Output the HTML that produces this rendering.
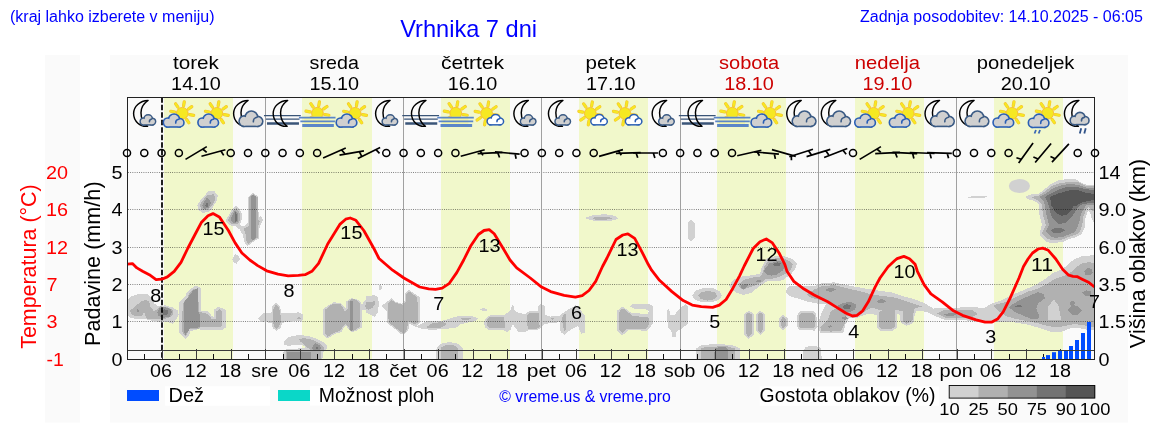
<!DOCTYPE html>
<html lang="sl">
<head>
<meta charset="utf-8">
<title>Vrhnika 7 dni</title>
<style>
html,body{margin:0;padding:0;background:#fff;}
body{width:1152px;height:443px;overflow:hidden;font-family:"Liberation Sans",sans-serif;}
svg{display:block;will-change:transform;}
svg text{font-family:"Liberation Sans",sans-serif;}
</style>
</head>
<body>
<svg width="1152" height="443" viewBox="0 0 1152 443">
<defs>
<clipPath id="plotclip"><rect x="127" y="97" width="968" height="262.3"/></clipPath>
<clipPath id="sunclip"><rect x="-20" y="0" width="40" height="19.8"/></clipPath>
</defs>
<rect x="0" y="0" width="1152" height="443" fill="#fff"/>
<rect x="45" y="55" width="35" height="367.5" fill="#fafafa"/>
<rect x="110" y="55" width="1018" height="367.5" fill="#fafafa"/>
<rect x="164" y="97" width="69" height="262.3" fill="#f1f8cb"/>
<rect x="302" y="97" width="70" height="262.3" fill="#f1f8cb"/>
<rect x="441" y="97" width="69" height="262.3" fill="#f1f8cb"/>
<rect x="579" y="97" width="69" height="262.3" fill="#f1f8cb"/>
<rect x="717" y="97" width="69" height="262.3" fill="#f1f8cb"/>
<rect x="855" y="97" width="69" height="262.3" fill="#f1f8cb"/>
<rect x="994" y="97" width="69" height="262.3" fill="#f1f8cb"/>
<g clip-path="url(#plotclip)">
<path d="M197.3 204.8L200.2 200.8L204.7 195.7L208.1 191.2L214.3 191.2L217.7 195.7L217.1 200.2L214.3 204.8L212.0 209.3L208.1 212.3L202.4 212.7L198.5 209.8Z" fill="#d1d1d1" shape-rendering="crispEdges"/>
<path d="M225.6 220.6L228.9 214.9L232.3 208.7L236.3 205.9L239.7 209.3L241.9 213.2L241.4 222.2L238.5 226.2L232.9 226.2L227.8 223.9Z" fill="#d1d1d1" shape-rendering="crispEdges"/>
<path d="M248.1 196.9L253.2 192.9L258.3 196.9L258.6 217.7L261.1 216.0L262.8 220.0L260.0 225.6L259.1 230.1L258.8 238.5L253.2 241.9L247.6 246.2L244.2 241.9L243.0 235.1L239.7 229.5L235.1 226.1L239.7 224.5L243.0 226.8L248.1 222.8Z" fill="#d1d1d1" shape-rendering="crispEdges"/>
<path d="M232.0 259.4L235.1 254.1L238.5 256.0L239.9 259.4L236.3 263.9L233.5 262.2Z" fill="#d1d1d1" shape-rendering="crispEdges"/>
<path d="M127.9 299.7L131.3 296.3L138.1 294.3L147.1 294.0L151.6 297.4L153.9 303.1L158.4 306.4L165.1 305.3L173.0 307.6L177.6 310.4L178.7 314.3L176.4 318.9L173.0 323.9L168.5 322.2L162.9 322.2L153.9 321.1L146.0 319.4L139.2 318.9L131.3 318.3L127.9 315.5Z" fill="#d1d1d1" shape-rendering="crispEdges"/>
<path d="M179.3 301.9L185.5 296.3L185.5 293.5L190.0 289.5L195.1 285.6L197.9 286.1L200.7 288.4L200.7 310.4L208.0 311.5L211.4 315.5L214.2 317.2L214.2 309.3L218.2 307.0L222.7 308.1L226.1 310.4L226.1 327.3L222.1 330.1L201.3 330.1L199.0 329.0L190.0 331.3L189.4 334.7L185.5 339.0L180.9 334.7L179.3 332.4Z" fill="#d1d1d1" shape-rendering="crispEdges"/>
<path d="M257.9 318.9L263.5 313.2L271.4 313.0L272.0 305.9L276.0 303.1L279.9 305.9L281.6 313.2L295.1 313.2L298.5 312.1L302.5 314.3L303.6 318.3L301.4 321.1L286.1 321.7L282.2 323.4L280.5 327.9L276.5 330.7L273.1 328.5L271.4 322.8L264.7 322.2L260.2 321.1Z" fill="#d1d1d1" shape-rendering="crispEdges"/>
<path d="M323.1 309.3L329.0 304.8L334.1 302.2L340.3 303.1L343.7 305.9L345.9 308.1L346.5 301.4L351.0 298.3L356.1 298.8L360.0 301.4L361.7 304.8L365.1 300.2L369.6 296.3L374.2 295.4L378.1 298.0L378.7 303.1L377.5 312.1L375.3 316.6L371.3 314.3L367.4 311.5L364.0 309.3L361.7 310.4L361.7 327.4L356.1 330.8L351.6 332.5L348.2 328.6L345.9 325.7L343.7 327.4L341.4 332.0L335.8 333.6L331.3 335.9L327.9 338.7L323.1 334.8Z" fill="#d1d1d1" shape-rendering="crispEdges"/>
<path d="M283.9 342.1L287.2 338.1L291.8 335.9L299.7 335.1L308.7 335.9L316.6 338.7L323.4 342.1L326.7 345.5L326.7 348.9L323.4 352.2L322.2 360.1L282.7 360.1L282.7 352.2L287.2 348.9L304.2 348.3L305.9 347.2L303.0 345.5L295.1 345.2L288.4 345.7L284.4 344.9Z" fill="#d1d1d1" shape-rendering="crispEdges"/>
<path d="M365.5 296.3L374.5 295.2L377.9 297.4L379.0 303.1L377.9 312.1L374.5 316.6L370.0 314.3L365.5 312.1Z" fill="#d1d1d1" shape-rendering="crispEdges"/>
<path d="M379.0 285.6L381.3 285.0L381.9 288.4L380.2 290.6L378.8 289.0Z" fill="#d1d1d1" shape-rendering="crispEdges"/>
<path d="M381.3 305.9L386.9 301.9L391.4 298.3L396.0 301.9L401.6 303.6L405.0 300.8L405.2 293.5L408.9 290.1L414.0 293.5L419.7 296.9L420.2 322.2L417.4 325.6L412.9 325.1L408.9 323.4L408.4 330.1L403.9 335.0L400.5 333.5L394.3 328.5L387.5 323.4L386.9 311.0Z" fill="#d1d1d1" shape-rendering="crispEdges"/>
<path d="M408.9 323.4L417.4 325.6L426.4 321.1L442.2 320.6L449.0 318.9L455.8 316.6L465.9 315.5L473.8 316.6L478.4 318.3L475.0 321.1L467.1 322.8L460.3 324.5L456.9 327.3L449.0 328.5L442.2 328.5L433.2 330.1L423.0 329.0L415.1 326.8Z" fill="#d1d1d1" shape-rendering="crispEdges"/>
<path d="M480.0 309.3L483.4 308.1L487.4 309.8L484.0 311.5Z" fill="#d1d1d1" shape-rendering="crispEdges"/>
<path d="M436.0 360.1L436.6 347.7L441.1 343.8L449.0 342.1L456.9 343.2L462.6 347.7L463.1 360.1Z" fill="#d1d1d1" shape-rendering="crispEdges"/>
<path d="M480.0 309.6L484.0 308.1L487.9 310.1L484.0 311.5Z" fill="#d1d1d1" shape-rendering="crispEdges"/>
<path d="M484.0 322.2L486.8 317.2L489.6 315.5L503.7 315.2L507.1 313.0L511.0 309.8L511.6 305.9L513.3 305.1L514.4 310.4L518.9 313.2L525.1 313.8L528.5 311.5L537.6 311.2L538.7 305.3L541.5 304.0L544.6 305.9L544.9 314.9L550.0 316.6L559.0 316.0L563.5 312.7L569.2 308.7L574.8 305.9L575.9 304.8L578.2 307.6L582.1 312.1L585.0 315.5L585.0 332.4L581.6 333.8L579.3 330.1L578.2 325.6L569.2 330.7L564.7 334.7L561.3 332.4L560.1 329.6L559.9 322.2L553.4 322.8L544.3 323.9L539.8 328.5L536.4 330.1L528.5 330.1L525.1 332.4L518.4 332.4L516.1 328.5L512.7 324.5L510.5 329.6L507.1 332.4L502.6 329.6L489.0 330.1L485.1 327.3Z" fill="#d1d1d1" shape-rendering="crispEdges"/>
<path d="M584.4 218.0L593.5 215.1L604.8 214.2L614.9 215.8L618.3 218.7L609.3 221.4L595.7 221.4Z" fill="#d1d1d1" shape-rendering="crispEdges"/>
<path d="M616.9 311.0L621.4 307.0L624.3 307.6L631.6 313.2L647.4 313.8L649.1 311.0L645.1 308.9L633.9 308.7L629.9 306.4L632.7 304.2L649.7 304.4L653.0 305.9L653.0 323.4L649.1 328.5L646.3 330.7L628.2 330.1L624.8 333.5L621.4 335.0L617.5 331.3Z" fill="#d1d1d1" shape-rendering="crispEdges"/>
<path d="M667.2 309.8L669.1 308.9L670.5 314.9L674.5 315.5L676.7 312.1L681.3 307.0L685.8 304.2L687.8 305.9L687.8 323.9L683.5 327.3L677.9 330.7L675.8 332.4L675.6 336.5L672.2 336.5L672.0 332.4L667.7 326.8Z" fill="#d1d1d1" shape-rendering="crispEdges"/>
<path d="M692.0 295.7L695.9 290.6L703.8 287.8L712.9 287.8L719.6 291.2L721.9 295.7L718.5 300.2L710.6 302.5L701.6 301.9L694.8 299.7Z" fill="#d1d1d1" shape-rendering="crispEdges"/>
<path d="M687.7 222.6L691.1 219.6L694.5 222.6L694.5 238.4L691.1 241.7L687.7 238.4Z" fill="#d1d1d1" shape-rendering="crispEdges"/>
<path d="M695.9 360.1L696.2 348.3L701.3 345.5L712.6 344.1L728.4 344.6L735.1 346.0L739.7 348.3L739.9 360.1Z" fill="#d1d1d1" shape-rendering="crispEdges"/>
<path d="M744.2 313.9L748.7 310.7L753.8 313.9L753.8 334.8L748.7 338.9L744.2 334.8Z" fill="#d1d1d1" shape-rendering="crispEdges"/>
<path d="M756.0 313.9L760.2 310.7L764.7 313.9L764.7 330.8L760.5 335.1L756.0 330.8Z" fill="#d1d1d1" shape-rendering="crispEdges"/>
<path d="M779.2 318.4L783.1 314.4L787.6 318.4L787.6 326.3L783.1 330.8L779.2 326.3Z" fill="#d1d1d1" shape-rendering="crispEdges"/>
<path d="M728.9 285.3L734.0 279.7L743.0 276.3L753.2 275.2L760.0 273.5L762.2 266.1L766.1 258.9L775.1 256.1L784.1 256.1L792.0 258.9L797.1 264.0L794.3 270.2L791.6 273.5L788.2 276.3L782.6 280.2L775.8 281.4L767.9 280.8L763.4 283.6L757.7 287.6L750.9 293.2L743.0 294.9L736.3 292.7L731.8 289.3Z" fill="#d1d1d1" shape-rendering="crispEdges"/>
<path d="M785.4 291.3L788.6 286.5L799.2 285.5L814.5 286.5L820.3 283.6L833.7 282.3L849.1 285.5L864.4 288.4L879.7 290.7L891.2 292.3L902.8 296.1L914.3 299.0L925.8 303.8L933.4 308.6L945.0 307.6L958.4 307.6L971.8 308.6L983.3 309.5L991.0 305.7L1002.5 300.9L1002.5 321.0L991.0 323.0L979.5 321.0L968.0 319.1L956.5 320.1L945.0 320.1L935.4 316.2L927.7 312.4L920.0 310.5L916.2 311.4L914.3 316.2L913.3 323.0L906.6 325.8L900.8 323.0L899.9 315.3L897.0 313.4L896.6 327.7L893.2 330.6L879.7 330.6L876.9 326.8L876.9 315.3L870.1 313.4L860.6 316.2L856.7 318.2L849.1 318.2L845.2 324.9L843.3 332.5L829.9 333.5L820.3 332.5L817.4 326.8L821.2 313.4L826.0 303.8L818.4 303.8L808.8 301.9L799.2 299.0L789.6 296.1Z" fill="#d1d1d1" shape-rendering="crispEdges"/>
<path d="M796.9 315.3L800.1 311.4L812.6 310.5L816.4 313.4L816.8 327.7L814.5 330.6L799.2 329.7L796.9 325.8Z" fill="#d1d1d1" shape-rendering="crispEdges"/>
<path d="M781.0 319.1L783.8 316.2L786.7 319.1L786.7 325.8L783.8 328.7L781.0 325.8Z" fill="#d1d1d1" shape-rendering="crispEdges"/>
<path d="M802.6 350.8L805.9 346.9L814.5 345.6L821.2 347.9L821.8 363.2L802.6 363.2Z" fill="#d1d1d1" shape-rendering="crispEdges"/>
<path d="M960.0 307.2L972.2 307.2L984.4 307.8L991.7 303.5L1000.2 300.7L1011.2 295.2L1023.4 290.3L1035.5 284.9L1045.3 278.8L1052.6 273.3L1061.1 269.6L1067.2 265.4L1073.3 259.9L1081.8 256.2L1089.2 255.6L1095.3 255.0L1095.3 330.3L1089.2 330.3L1084.3 329.1L1077.0 327.9L1069.7 328.5L1062.4 331.5L1050.2 331.5L1039.2 327.9L1028.2 324.8L1014.8 322.4L996.6 321.8L974.6 321.2L960.0 319.9Z" fill="#d1d1d1" shape-rendering="crispEdges"/>
<ellipse cx="1019.4" cy="186.0" rx="10.6" ry="6.9" fill="#d1d1d1"/>
<path d="M1024.9 197.0L1031.9 194.0L1038.9 193.5L1044.9 189.0L1050.9 184.0L1058.9 180.0L1066.9 179.2L1075.8 179.5L1081.8 183.0L1086.8 185.0L1094.8 185.0L1094.8 224.0L1091.8 219.0L1089.8 212.0L1087.8 211.0L1085.3 219.0L1084.8 227.0L1081.8 234.0L1076.8 236.9L1069.9 238.9L1062.9 241.9L1054.9 242.9L1046.9 242.4L1040.9 236.9L1039.4 234.0L1041.9 225.0L1039.4 215.0L1038.9 205.0L1040.9 207.9L1037.9 202.9L1033.9 200.9L1028.9 199.4Z" fill="#d1d1d1" shape-rendering="crispEdges"/>
<path d="M965.9 197.1L976.1 195.9L987.4 196.4L982.9 198.2L971.6 198.4Z" fill="#d1d1d1" shape-rendering="crispEdges"/>
<path d="M199.6 205.3L203.0 200.2L206.9 195.2L213.7 194.3L215.4 196.9L214.3 201.9L210.9 207.0L206.9 210.4L201.9 210.1Z" fill="#b1b1b1" shape-rendering="crispEdges"/>
<path d="M227.8 220.0L230.6 214.9L233.5 210.4L236.3 208.1L238.5 211.0L240.2 214.3L239.7 221.1L237.4 224.3L232.3 224.3Z" fill="#b1b1b1" shape-rendering="crispEdges"/>
<path d="M249.3 197.4L253.2 194.0L257.5 197.4L257.7 218.9L259.8 221.1L257.7 226.8L257.7 237.4L252.6 240.8L248.1 243.9L246.4 240.8L245.9 235.1L243.6 228.3L245.3 228.5L249.3 225.1Z" fill="#b1b1b1" shape-rendering="crispEdges"/>
<path d="M130.2 310.4L134.7 307.0L140.3 301.9L146.0 299.7L149.3 301.9L150.5 307.0L153.9 311.0L157.2 309.3L160.6 306.4L167.4 307.0L173.0 310.4L172.5 314.9L168.5 318.3L161.8 318.9L153.9 319.4L147.1 318.9L144.8 314.9L144.3 311.0L142.0 315.5L134.7 316.0L131.3 314.3Z" fill="#b1b1b1" shape-rendering="crispEdges"/>
<path d="M183.2 303.1L187.7 297.4L188.8 293.5L193.4 289.0L197.9 288.4L199.0 312.1L205.8 313.2L210.3 316.6L211.4 318.9L215.9 318.9L216.5 311.5L219.3 309.3L222.1 311.5L222.1 325.6L219.3 327.3L200.1 327.3L199.0 328.5L188.8 329.0L187.7 332.4L185.5 336.4L182.6 333.5L181.9 318.9Z" fill="#b1b1b1" shape-rendering="crispEdges"/>
<path d="M272.6 317.2L273.7 307.6L276.2 304.4L278.8 307.6L281.0 316.6L280.5 323.4L277.1 329.0L274.3 326.8L273.1 322.2Z" fill="#b1b1b1" shape-rendering="crispEdges"/>
<path d="M297.2 318.3L299.1 316.6L300.8 318.3L299.1 319.8Z" fill="#b1b1b1" shape-rendering="crispEdges"/>
<path d="M325.1 309.8L330.1 305.3L334.7 303.6L340.3 304.2L343.1 307.6L344.8 312.1L347.6 308.7L348.0 301.9L351.6 299.1L356.1 299.7L359.5 302.5L360.0 326.9L355.5 329.7L351.6 331.4L349.3 329.7L348.2 326.3L345.9 324.1L342.6 326.9L340.3 330.8L335.8 332.0L331.3 334.2L327.9 337.0L325.1 333.6Z" fill="#b1b1b1" shape-rendering="crispEdges"/>
<path d="M364.9 305.3L367.9 301.9L374.2 301.4L375.1 304.2L372.5 307.6L368.5 309.8L366.3 308.1Z" fill="#b1b1b1" shape-rendering="crispEdges"/>
<path d="M299.1 339.3L304.2 338.1L310.9 339.3L317.7 342.1L322.2 345.5L324.5 348.9L322.2 351.1L318.8 350.6L310.9 350.0L307.6 347.7L304.2 344.3L299.7 341.0Z" fill="#b1b1b1" shape-rendering="crispEdges"/>
<path d="M286.1 351.1L321.1 351.1L320.5 360.1L286.1 360.1Z" fill="#b1b1b1" shape-rendering="crispEdges"/>
<path d="M365.5 301.9L374.5 301.4L375.1 304.2L372.3 307.6L365.5 309.3Z" fill="#b1b1b1" shape-rendering="crispEdges"/>
<path d="M388.1 303.1L391.4 299.7L396.0 303.1L402.7 304.8L406.1 301.9L406.3 294.6L408.9 291.2L413.5 294.6L417.4 297.4L418.0 322.2L415.1 324.5L408.4 321.1L406.7 330.1L403.9 333.5L400.5 331.8L394.8 327.3L388.6 322.2Z" fill="#b1b1b1" shape-rendering="crispEdges"/>
<path d="M425.9 327.3L433.2 322.8L443.4 322.2L446.7 323.9L442.2 327.3L433.2 328.5Z" fill="#b1b1b1" shape-rendering="crispEdges"/>
<path d="M460.3 318.3L465.9 317.7L471.6 318.3L468.2 320.0L462.6 320.0Z" fill="#b1b1b1" shape-rendering="crispEdges"/>
<path d="M440.5 360.1L440.9 347.7L444.5 345.5L453.5 345.2L457.8 347.7L458.0 360.1Z" fill="#b1b1b1" shape-rendering="crispEdges"/>
<path d="M487.3 318.9L489.6 317.2L504.3 317.2L504.8 327.9L489.6 328.5L487.3 326.2Z" fill="#b1b1b1" shape-rendering="crispEdges"/>
<path d="M527.4 314.9L529.7 313.2L538.7 313.2L539.6 326.8L536.4 329.0L528.5 328.5L527.2 325.6Z" fill="#b1b1b1" shape-rendering="crispEdges"/>
<path d="M562.2 317.7L564.1 314.1L565.8 314.3L565.8 330.1L564.1 331.8L562.4 322.2Z" fill="#b1b1b1" shape-rendering="crispEdges"/>
<path d="M550.9 318.3L554.5 318.1L552.8 320.0Z" fill="#b1b1b1" shape-rendering="crispEdges"/>
<path d="M592.3 218.0L598.0 216.5L607.0 216.5L612.7 218.3L604.8 219.9L595.7 219.9Z" fill="#b1b1b1" shape-rendering="crispEdges"/>
<path d="M619.0 312.1L622.0 308.7L624.3 309.3L632.7 316.0L648.0 317.2L649.1 318.9L648.5 325.6L646.3 328.5L627.1 328.5L622.6 333.0L619.2 330.1Z" fill="#b1b1b1" shape-rendering="crispEdges"/>
<path d="M698.0 295.7L701.6 292.3L708.4 290.9L715.1 292.3L717.2 296.3L714.0 299.4L707.2 300.6L701.0 299.1Z" fill="#b1b1b1" shape-rendering="crispEdges"/>
<path d="M700.9 360.1L701.3 348.3L708.1 346.6L727.2 346.4L734.6 348.3L734.9 360.1Z" fill="#b1b1b1" shape-rendering="crispEdges"/>
<path d="M745.9 314.4L748.7 312.5L751.9 314.4L751.9 333.6L748.7 337.0L745.9 333.6Z" fill="#b1b1b1" shape-rendering="crispEdges"/>
<path d="M757.7 314.4L760.2 312.5L763.1 314.4L763.1 329.7L760.5 333.1L757.7 329.7Z" fill="#b1b1b1" shape-rendering="crispEdges"/>
<path d="M780.9 319.5L783.1 316.7L785.9 319.5L785.9 325.7L783.1 328.5L780.9 325.7Z" fill="#b1b1b1" shape-rendering="crispEdges"/>
<path d="M738.5 284.2L744.2 279.7L753.2 277.4L761.1 276.3L763.4 270.6L763.9 266.7L768.3 261.2L775.1 258.3L784.1 258.3L789.8 261.2L792.6 264.5L790.9 270.2L785.9 273.5L780.3 276.3L773.5 278.5L766.7 278.5L762.2 281.9L755.5 285.3L748.7 287.6L743.0 289.8L739.7 287.6Z" fill="#b1b1b1" shape-rendering="crispEdges"/>
<path d="M798.8 316.2L801.1 313.4L812.6 313.0L814.9 315.3L814.9 326.8L812.6 328.3L800.1 328.3L798.8 325.8Z" fill="#b1b1b1" shape-rendering="crispEdges"/>
<path d="M781.9 320.1L783.8 318.2L785.8 320.1L785.8 325.3L783.8 327.2L781.9 325.3Z" fill="#b1b1b1" shape-rendering="crispEdges"/>
<path d="M806.9 294.2L814.5 289.4L821.2 286.5L833.7 285.0L847.1 288.4L860.6 291.3L870.1 294.2L883.6 296.1L895.1 297.6L904.7 300.9L914.3 303.8L921.9 306.6L914.3 308.6L912.3 321.0L906.6 323.9L902.8 321.0L902.8 311.4L895.1 309.5L894.7 326.8L892.2 328.7L880.7 328.7L878.8 325.8L878.8 312.4L881.7 310.5L872.1 307.6L866.3 310.5L860.6 314.3L856.7 316.2L851.0 315.7L845.2 316.2L845.2 323.0L841.4 330.6L830.8 331.6L821.2 330.6L820.3 326.8L828.0 319.1L830.8 311.4L837.5 307.6L831.8 303.8L824.1 300.9L816.4 299.0L810.7 297.6Z" fill="#b1b1b1" shape-rendering="crispEdges"/>
<path d="M937.3 313.4L943.0 310.5L958.4 309.9L971.8 311.4L977.6 314.3L971.8 317.2L958.4 318.2L945.0 317.6Z" fill="#b1b1b1" shape-rendering="crispEdges"/>
<path d="M960.0 310.2L972.2 310.2L977.7 313.9L972.2 316.9L960.0 316.3Z" fill="#b1b1b1" shape-rendering="crispEdges"/>
<path d="M992.9 305.9L996.6 304.3L1006.3 301.9L1016.0 297.0L1028.2 291.6L1038.0 288.5L1047.7 283.6L1055.0 278.8L1064.8 275.7L1072.1 271.4L1077.0 266.6L1083.1 262.9L1089.2 262.3L1095.3 262.9L1095.3 327.3L1089.2 326.6L1081.8 324.8L1073.3 324.2L1064.8 326.0L1057.5 327.3L1047.7 326.0L1039.2 323.6L1028.2 321.2L1014.8 318.7L1006.3 316.3L996.6 309.6Z" fill="#b1b1b1" shape-rendering="crispEdges"/>
<path d="M1030.9 197.0L1038.9 195.5L1044.9 191.5L1051.9 186.0L1060.9 183.0L1069.9 182.0L1078.8 182.5L1084.8 185.5L1094.8 186.5L1094.8 212.0L1090.8 210.0L1088.8 207.0L1085.8 210.0L1083.3 217.0L1082.3 225.0L1079.8 232.0L1075.8 234.9L1069.9 236.4L1062.9 239.4L1054.9 240.4L1046.9 238.9L1041.9 233.0L1045.9 225.0L1042.9 215.0L1041.9 205.0L1042.9 207.9L1040.9 202.9L1036.9 199.9Z" fill="#b1b1b1" shape-rendering="crispEdges"/>
<path d="M1047.7 319.9L1048.0 307.2L1053.8 299.2L1058.7 305.9L1061.1 319.9Z" fill="#d1d1d1" shape-rendering="crispEdges"/>
<path d="M202.2 205.9L204.7 200.8L206.9 198.0L209.8 200.2L210.9 203.6L208.6 208.1L204.1 208.7Z" fill="#939393" shape-rendering="crispEdges"/>
<path d="M230.6 219.4L232.9 214.3L235.1 210.4L237.4 212.7L238.5 216.0L238.0 221.1L235.7 223.1L232.3 222.2Z" fill="#939393" shape-rendering="crispEdges"/>
<path d="M251.5 196.3L253.2 194.9L255.5 196.3L256.0 237.4L253.2 240.2L250.9 238.5Z" fill="#939393" shape-rendering="crispEdges"/>
<path d="M136.7 310.7L137.8 308.9L139.0 310.7L138.1 312.3Z" fill="#939393" shape-rendering="crispEdges"/>
<path d="M157.2 312.1L159.5 308.1L165.1 307.0L170.8 309.3L171.9 312.7L169.1 317.2L162.9 317.7L158.4 316.0Z" fill="#939393" shape-rendering="crispEdges"/>
<path d="M183.8 302.5L188.8 296.3L193.4 290.1L197.9 287.8L197.9 311.0L199.9 314.3L199.9 327.3L190.0 328.5L188.3 331.3L185.5 334.7L183.8 331.8Z" fill="#939393" shape-rendering="crispEdges"/>
<path d="M350.5 301.4L352.1 300.2L352.9 301.9L352.9 329.6L351.6 331.3L350.2 329.6Z" fill="#939393" shape-rendering="crispEdges"/>
<path d="M311.5 347.7L315.5 343.2L320.0 345.5L321.7 348.9L317.7 350.2L313.2 350.0Z" fill="#939393" shape-rendering="crispEdges"/>
<path d="M287.2 351.7L310.9 351.7L311.5 360.1L287.2 360.1Z" fill="#939393" shape-rendering="crispEdges"/>
<path d="M714.3 360.1L714.6 348.9L718.2 347.2L726.1 347.2L727.8 348.9L727.8 360.1Z" fill="#939393" shape-rendering="crispEdges"/>
<path d="M763.9 271.8L765.5 267.8L769.5 263.4L777.4 261.2L783.0 261.7L785.3 265.7L782.6 270.6L776.9 274.6L771.3 275.7L766.7 274.6Z" fill="#939393" shape-rendering="crispEdges"/>
<path d="M755.2 280.8L760.5 279.9L760.9 281.7L756.0 282.5Z" fill="#939393" shape-rendering="crispEdges"/>
<path d="M740.2 285.9L746.4 283.6L748.7 285.3L744.2 289.3L741.4 288.1Z" fill="#939393" shape-rendering="crispEdges"/>
<path d="M944.0 314.3L950.7 312.8L958.4 313.4L952.6 316.2L946.9 316.2Z" fill="#939393" shape-rendering="crispEdges"/>
<path d="M837.5 305.7L843.3 302.8L851.0 301.9L856.7 304.7L854.8 309.5L849.1 312.4L843.3 311.4L839.5 308.6Z" fill="#939393" shape-rendering="crispEdges"/>
<path d="M825.6 289.4L830.8 287.5L836.0 289.4L831.8 291.9L827.0 291.3Z" fill="#939393" shape-rendering="crispEdges"/>
<path d="M876.9 300.9L881.7 299.0L886.5 300.9L882.6 303.4L878.2 302.8Z" fill="#939393" shape-rendering="crispEdges"/>
<path d="M841.4 317.6L846.2 316.2L848.1 318.7L844.3 320.1Z" fill="#939393" shape-rendering="crispEdges"/>
<path d="M827.6 326.4L830.3 325.3L832.2 326.8L829.5 327.9Z" fill="#939393" shape-rendering="crispEdges"/>
<path d="M1008.7 307.2L1012.4 304.3L1020.9 299.5L1030.7 295.2L1038.0 292.2L1044.1 294.0L1044.7 298.6L1038.0 303.5L1036.2 308.4L1039.2 315.7L1038.0 319.3L1030.7 318.7L1023.4 315.7L1014.8 312.0Z" fill="#939393" shape-rendering="crispEdges"/>
<path d="M1084.3 271.4L1087.9 267.8L1092.2 269.6L1092.8 273.3L1089.2 275.7L1085.5 274.5Z" fill="#939393" shape-rendering="crispEdges"/>
<path d="M1081.8 292.8L1086.7 290.3L1091.6 291.6L1091.0 295.8L1085.5 296.4Z" fill="#939393" shape-rendering="crispEdges"/>
<path d="M1067.2 310.2L1070.9 306.5L1069.7 302.3L1072.7 300.4L1075.1 302.9L1073.9 305.3L1078.2 306.5L1081.8 310.2L1078.2 314.5L1072.1 314.5Z" fill="#939393" shape-rendering="crispEdges"/>
<path d="M1039.4 197.0L1045.9 193.5L1052.9 188.5L1061.9 185.0L1070.9 184.0L1078.8 185.0L1085.8 187.5L1094.8 188.5L1094.8 205.0L1086.8 205.0L1083.3 209.0L1080.8 215.0L1079.3 222.0L1076.8 229.0L1073.8 232.5L1068.9 234.5L1062.9 236.9L1054.9 237.9L1049.9 235.9L1045.9 231.5L1048.9 225.0L1046.4 215.0L1044.9 205.0L1045.9 207.9L1043.9 201.9Z" fill="#939393" shape-rendering="crispEdges"/>
<path d="M205.2 205.3L206.9 202.5L208.3 204.8L207.5 207.0L205.8 207.0Z" fill="#747474" shape-rendering="crispEdges"/>
<path d="M234.6 214.3L235.7 212.1L236.8 214.3L236.5 221.1L235.1 221.7Z" fill="#747474" shape-rendering="crispEdges"/>
<path d="M162.3 311.5L164.6 309.3L168.0 310.4L167.4 314.3L164.6 315.5L162.7 314.1Z" fill="#747474" shape-rendering="crispEdges"/>
<path d="M315.5 347.7L317.2 346.6L318.3 348.3L316.8 349.4Z" fill="#747474" shape-rendering="crispEdges"/>
<path d="M772.3 264.0L777.4 262.3L780.7 263.4L779.6 265.7L775.1 266.2Z" fill="#747474" shape-rendering="crispEdges"/>
<path d="M842.3 306.1L847.1 304.2L851.9 305.7L849.1 309.1L844.3 309.1Z" fill="#747474" shape-rendering="crispEdges"/>
<path d="M1014.8 306.2L1018.5 305.0L1022.8 305.9L1019.7 307.4L1016.0 307.4Z" fill="#747474" shape-rendering="crispEdges"/>
<path d="M1044.9 197.0L1050.9 193.5L1058.9 189.5L1066.9 187.0L1074.8 186.5L1082.8 188.5L1094.8 190.5L1094.8 202.4L1089.8 202.9L1082.8 204.4L1080.8 205.0L1077.8 208.0L1073.8 214.0L1069.9 219.0L1064.9 223.0L1058.9 224.0L1053.9 220.0L1050.9 215.0L1048.9 205.0L1049.9 207.9L1047.4 201.9Z" fill="#747474" shape-rendering="crispEdges"/>
<path d="M1050.9 230.5L1053.9 228.5L1061.9 228.2L1064.9 230.5L1060.9 232.5L1053.9 233.0Z" fill="#747474" shape-rendering="crispEdges"/>
<path d="M1049.9 197.0L1056.9 194.0L1064.9 191.5L1070.9 190.0L1078.8 190.5L1084.8 192.5L1094.8 194.0L1094.8 199.9L1088.8 200.9L1080.8 202.9L1074.8 206.9L1073.8 205.0L1070.9 211.0L1066.9 214.5L1061.9 215.8L1057.9 214.0L1053.9 210.0L1051.9 205.0L1051.9 207.9L1050.9 201.9Z" fill="#565656" shape-rendering="crispEdges"/>
</g>
<line x1="128" y1="321.5" x2="1095" y2="321.5" stroke="#000" stroke-opacity="0.62" stroke-width="0.9" stroke-dasharray="0.85 1.36"/>
<line x1="128" y1="284.5" x2="1095" y2="284.5" stroke="#000" stroke-opacity="0.62" stroke-width="0.9" stroke-dasharray="0.85 1.36"/>
<line x1="128" y1="247.5" x2="1095" y2="247.5" stroke="#000" stroke-opacity="0.62" stroke-width="0.9" stroke-dasharray="0.85 1.36"/>
<line x1="128" y1="209.5" x2="1095" y2="209.5" stroke="#000" stroke-opacity="0.62" stroke-width="0.9" stroke-dasharray="0.85 1.36"/>
<line x1="128" y1="172.5" x2="1095" y2="172.5" stroke="#000" stroke-opacity="0.62" stroke-width="0.9" stroke-dasharray="0.85 1.36"/>
<line x1="265.5" y1="97" x2="265.5" y2="359.3" stroke="#a0a0a0" stroke-width="1"/>
<line x1="403.5" y1="97" x2="403.5" y2="359.3" stroke="#a0a0a0" stroke-width="1"/>
<line x1="541.5" y1="97" x2="541.5" y2="359.3" stroke="#a0a0a0" stroke-width="1"/>
<line x1="680.5" y1="97" x2="680.5" y2="359.3" stroke="#a0a0a0" stroke-width="1"/>
<line x1="818.5" y1="97" x2="818.5" y2="359.3" stroke="#a0a0a0" stroke-width="1"/>
<line x1="956.5" y1="97" x2="956.5" y2="359.3" stroke="#a0a0a0" stroke-width="1"/>
<line x1="162" y1="97.3" x2="162" y2="359" stroke="#000" stroke-width="1.75" stroke-dasharray="5.5 2"/>
<line x1="144.5" y1="359" x2="144.5" y2="354" stroke="#111" stroke-width="1"/>
<line x1="162.5" y1="359" x2="162.5" y2="349" stroke="#3c3c3c" stroke-width="1"/>
<line x1="179.5" y1="359" x2="179.5" y2="354" stroke="#111" stroke-width="1"/>
<line x1="196.5" y1="359" x2="196.5" y2="349" stroke="#3c3c3c" stroke-width="1"/>
<line x1="213.5" y1="359" x2="213.5" y2="354" stroke="#111" stroke-width="1"/>
<line x1="231.5" y1="359" x2="231.5" y2="349" stroke="#3c3c3c" stroke-width="1"/>
<line x1="248.5" y1="359" x2="248.5" y2="354" stroke="#111" stroke-width="1"/>
<line x1="265.5" y1="359" x2="265.5" y2="349" stroke="#3c3c3c" stroke-width="1"/>
<line x1="283.5" y1="359" x2="283.5" y2="354" stroke="#111" stroke-width="1"/>
<line x1="300.5" y1="359" x2="300.5" y2="349" stroke="#3c3c3c" stroke-width="1"/>
<line x1="317.5" y1="359" x2="317.5" y2="354" stroke="#111" stroke-width="1"/>
<line x1="334.5" y1="359" x2="334.5" y2="349" stroke="#3c3c3c" stroke-width="1"/>
<line x1="352.5" y1="359" x2="352.5" y2="354" stroke="#111" stroke-width="1"/>
<line x1="369.5" y1="359" x2="369.5" y2="349" stroke="#3c3c3c" stroke-width="1"/>
<line x1="386.5" y1="359" x2="386.5" y2="354" stroke="#111" stroke-width="1"/>
<line x1="404.5" y1="359" x2="404.5" y2="349" stroke="#3c3c3c" stroke-width="1"/>
<line x1="421.5" y1="359" x2="421.5" y2="354" stroke="#111" stroke-width="1"/>
<line x1="438.5" y1="359" x2="438.5" y2="349" stroke="#3c3c3c" stroke-width="1"/>
<line x1="455.5" y1="359" x2="455.5" y2="354" stroke="#111" stroke-width="1"/>
<line x1="473.5" y1="359" x2="473.5" y2="349" stroke="#3c3c3c" stroke-width="1"/>
<line x1="490.5" y1="359" x2="490.5" y2="354" stroke="#111" stroke-width="1"/>
<line x1="507.5" y1="359" x2="507.5" y2="349" stroke="#3c3c3c" stroke-width="1"/>
<line x1="525.5" y1="359" x2="525.5" y2="354" stroke="#111" stroke-width="1"/>
<line x1="542.5" y1="359" x2="542.5" y2="349" stroke="#3c3c3c" stroke-width="1"/>
<line x1="559.5" y1="359" x2="559.5" y2="354" stroke="#111" stroke-width="1"/>
<line x1="576.5" y1="359" x2="576.5" y2="349" stroke="#3c3c3c" stroke-width="1"/>
<line x1="594.5" y1="359" x2="594.5" y2="354" stroke="#111" stroke-width="1"/>
<line x1="611.5" y1="359" x2="611.5" y2="349" stroke="#3c3c3c" stroke-width="1"/>
<line x1="628.5" y1="359" x2="628.5" y2="354" stroke="#111" stroke-width="1"/>
<line x1="646.5" y1="359" x2="646.5" y2="349" stroke="#3c3c3c" stroke-width="1"/>
<line x1="663.5" y1="359" x2="663.5" y2="354" stroke="#111" stroke-width="1"/>
<line x1="680.5" y1="359" x2="680.5" y2="349" stroke="#3c3c3c" stroke-width="1"/>
<line x1="697.5" y1="359" x2="697.5" y2="354" stroke="#111" stroke-width="1"/>
<line x1="715.5" y1="359" x2="715.5" y2="349" stroke="#3c3c3c" stroke-width="1"/>
<line x1="732.5" y1="359" x2="732.5" y2="354" stroke="#111" stroke-width="1"/>
<line x1="749.5" y1="359" x2="749.5" y2="349" stroke="#3c3c3c" stroke-width="1"/>
<line x1="767.5" y1="359" x2="767.5" y2="354" stroke="#111" stroke-width="1"/>
<line x1="784.5" y1="359" x2="784.5" y2="349" stroke="#3c3c3c" stroke-width="1"/>
<line x1="801.5" y1="359" x2="801.5" y2="354" stroke="#111" stroke-width="1"/>
<line x1="818.5" y1="359" x2="818.5" y2="349" stroke="#3c3c3c" stroke-width="1"/>
<line x1="836.5" y1="359" x2="836.5" y2="354" stroke="#111" stroke-width="1"/>
<line x1="853.5" y1="359" x2="853.5" y2="349" stroke="#3c3c3c" stroke-width="1"/>
<line x1="870.5" y1="359" x2="870.5" y2="354" stroke="#111" stroke-width="1"/>
<line x1="888.5" y1="359" x2="888.5" y2="349" stroke="#3c3c3c" stroke-width="1"/>
<line x1="905.5" y1="359" x2="905.5" y2="354" stroke="#111" stroke-width="1"/>
<line x1="922.5" y1="359" x2="922.5" y2="349" stroke="#3c3c3c" stroke-width="1"/>
<line x1="939.5" y1="359" x2="939.5" y2="354" stroke="#111" stroke-width="1"/>
<line x1="957.5" y1="359" x2="957.5" y2="349" stroke="#3c3c3c" stroke-width="1"/>
<line x1="974.5" y1="359" x2="974.5" y2="354" stroke="#111" stroke-width="1"/>
<line x1="991.5" y1="359" x2="991.5" y2="349" stroke="#3c3c3c" stroke-width="1"/>
<line x1="1009.5" y1="359" x2="1009.5" y2="354" stroke="#111" stroke-width="1"/>
<line x1="1026.5" y1="359" x2="1026.5" y2="349" stroke="#3c3c3c" stroke-width="1"/>
<line x1="1043.5" y1="359" x2="1043.5" y2="354" stroke="#111" stroke-width="1"/>
<line x1="1060.5" y1="359" x2="1060.5" y2="349" stroke="#3c3c3c" stroke-width="1"/>
<line x1="1078.5" y1="359" x2="1078.5" y2="354" stroke="#111" stroke-width="1"/>
<rect x="1042" y="357" width="3" height="2.5" fill="#004cff"/>
<rect x="1046" y="355.1" width="4" height="4.4" fill="#004cff"/>
<rect x="1052" y="352.2" width="4" height="7.3" fill="#004cff"/>
<rect x="1058" y="351" width="4" height="8.5" fill="#004cff"/>
<rect x="1064" y="351" width="4" height="8.5" fill="#004cff"/>
<rect x="1069" y="346" width="4" height="13.5" fill="#004cff"/>
<rect x="1075" y="340" width="4" height="19.5" fill="#004cff"/>
<rect x="1081" y="333" width="4" height="26.5" fill="#004cff"/>
<rect x="1087" y="322" width="4" height="37.5" fill="#004cff"/>
<line x1="127.5" y1="350.5" x2="1094.5" y2="350.5" stroke="#3a3a3a" stroke-width="1"/>
<polyline points="127.5,264.2 132.4,263.6 136.9,267.9 142.6,271.3 149.3,274.7 156.1,279.7 161.8,279.2 167.4,276.9 174.2,271.3 181.0,262.3 187.7,248.5 194.5,235.5 201.3,222.6 208.0,215.8 213.0,213.6 219.3,216.9 228.4,230.5 235.1,242.9 241.9,253.0 249.8,260.0 257.7,265.6 266.7,270.8 278.0,274.2 288.2,275.8 298.3,275.3 305.1,274.7 311.9,271.3 318.6,263.4 327.7,244.0 340.1,224.1 345.7,219.2 350.2,218.0 355.9,220.3 363.8,230.5 373.9,248.5 379.0,258.5 392.6,270.2 403.9,278.0 419.7,287.0 428.7,288.9 435.5,289.3 442.2,288.2 449.0,283.7 456.9,272.4 463.7,260.0 470.5,246.3 478.4,234.5 484.0,230.5 489.2,229.6 494.2,233.8 503.2,248.5 510.0,260.0 516.7,267.9 530.3,278.0 541.6,287.1 550.6,291.6 564.1,295.4 575.4,297.2 582.2,295.7 589.0,290.5 595.7,281.4 602.5,266.5 607.0,258.0 616.0,239.5 622.8,235.0 627.9,233.8 634.7,238.4 641.4,250.8 648.2,264.3 651.6,270.2 659.5,280.3 671.9,291.6 683.2,300.6 692.2,305.1 701.3,306.7 712.6,307.4 719.3,305.1 726.1,299.5 732.9,288.2 739.6,275.8 744.2,266.0 753.2,248.5 760.0,241.7 766.3,239.0 772.4,242.9 779.1,253.0 784.8,264.3 787.0,271.3 793.8,281.4 802.8,288.2 814.1,295.0 827.7,301.8 836.7,307.4 845.7,313.0 852.5,316.0 857.0,315.3 862.7,310.8 868.3,301.8 875.1,287.1 880.0,278.0 888.1,266.8 894.8,260.5 897.1,258.7 903.9,256.4 909.5,258.7 915.1,264.3 917.4,271.3 924.2,284.8 930.9,293.9 942.2,301.8 953.5,310.8 962.5,315.3 976.1,319.8 985.1,322.1 991.9,322.1 997.5,319.1 1003.2,311.9 1010.0,298.4 1019.0,278.0 1023.5,266.5 1028.0,259.0 1032.5,253.0 1038.2,249.0 1042.7,248.1 1048.3,250.3 1055.8,259.0 1059.3,264.3 1062.8,269.5 1068.7,275.2 1073.0,276.4 1077.0,276.6 1082.2,279.2 1089.0,282.6 1094.5,287.0" fill="none" stroke="#ff0000" stroke-width="2.8" stroke-linejoin="round" stroke-linecap="butt"/>
<rect x="127.5" y="97.5" width="967" height="262" fill="none" stroke="#222" stroke-width="1"/>
<g transform="translate(144.29,97.0)"><path transform="translate(0.00,0)" d="M3.8 3.5C-4.5 3.7 -10.7 9.5 -10.7 16.6C-10.7 24.5 -4 30.1 3.3 29.3C-1.5 26 -3.3 21 -3.3 15.7C-3.3 10.5 0 6 3.8 3.5Z" fill="none" stroke="#000" stroke-width="1.45" stroke-linejoin="round"/><g transform="translate(-3.40,18.60) scale(0.1400,0.1387)"><g fill="#3a5a84" stroke="#3a5a84" stroke-width="21.53"><ellipse cx="18" cy="42" rx="18" ry="20"/><ellipse cx="52" cy="25" rx="25" ry="25"/><ellipse cx="80" cy="43" rx="20" ry="19"/><rect x="18" y="40" width="62" height="22"/></g><g fill="#d0d0d0"><ellipse cx="18" cy="42" rx="18" ry="20"/><ellipse cx="52" cy="25" rx="25" ry="25"/><ellipse cx="80" cy="43" rx="20" ry="19"/><rect x="18" y="40" width="62" height="22"/></g><path d="M77.5 24.5A20 19 0 0 0 61 45" fill="none" stroke="#3a5a84" stroke-width="10.76" stroke-linecap="round"/></g></g>
<g transform="translate(178.86,97.0)"><g><path d="M4.72 8.82L5.41 4.88M9.63 11.94L12.90 9.65M10.88 17.62L14.82 18.31M7.76 22.53L10.05 25.80M2.08 23.78L1.39 27.72M-2.83 20.66L-6.10 22.95M-4.08 14.98L-8.02 14.29M-0.96 10.07L-3.25 6.80" stroke="#f7bd2e" stroke-width="3.2" stroke-linecap="round" fill="none"/><path d="M4.72 8.82L5.41 4.88M9.63 11.94L12.90 9.65M10.88 17.62L14.82 18.31M7.76 22.53L10.05 25.80M2.08 23.78L1.39 27.72M-2.83 20.66L-6.10 22.95M-4.08 14.98L-8.02 14.29M-0.96 10.07L-3.25 6.80" stroke="#f6e822" stroke-width="2.2" stroke-linecap="round" fill="none"/><circle cx="3.40" cy="16.30" r="5.9" fill="#f6e822" stroke="#f6ae25" stroke-width="0.7"/></g><g transform="translate(-14.70,17.80) scale(0.1900,0.1839)"><g fill="#2a5fb5" stroke="#2a5fb5" stroke-width="17.12"><ellipse cx="18" cy="42" rx="18" ry="20"/><ellipse cx="52" cy="25" rx="25" ry="25"/><ellipse cx="80" cy="43" rx="20" ry="19"/><rect x="18" y="40" width="62" height="22"/></g><g fill="#d0d0d0"><ellipse cx="18" cy="42" rx="18" ry="20"/><ellipse cx="52" cy="25" rx="25" ry="25"/><ellipse cx="80" cy="43" rx="20" ry="19"/><rect x="18" y="40" width="62" height="22"/></g><path d="M77.5 24.5A20 19 0 0 0 61 45" fill="none" stroke="#2a5fb5" stroke-width="8.56" stroke-linecap="round"/></g></g>
<g transform="translate(213.43,97.0)"><g><path d="M4.72 8.82L5.41 4.88M9.63 11.94L12.90 9.65M10.88 17.62L14.82 18.31M7.76 22.53L10.05 25.80M2.08 23.78L1.39 27.72M-2.83 20.66L-6.10 22.95M-4.08 14.98L-8.02 14.29M-0.96 10.07L-3.25 6.80" stroke="#f7bd2e" stroke-width="3.2" stroke-linecap="round" fill="none"/><path d="M4.72 8.82L5.41 4.88M9.63 11.94L12.90 9.65M10.88 17.62L14.82 18.31M7.76 22.53L10.05 25.80M2.08 23.78L1.39 27.72M-2.83 20.66L-6.10 22.95M-4.08 14.98L-8.02 14.29M-0.96 10.07L-3.25 6.80" stroke="#f6e822" stroke-width="2.2" stroke-linecap="round" fill="none"/><circle cx="3.40" cy="16.30" r="5.9" fill="#f6e822" stroke="#f6ae25" stroke-width="0.7"/></g><g transform="translate(-14.70,17.80) scale(0.1900,0.1839)"><g fill="#2a5fb5" stroke="#2a5fb5" stroke-width="17.12"><ellipse cx="18" cy="42" rx="18" ry="20"/><ellipse cx="52" cy="25" rx="25" ry="25"/><ellipse cx="80" cy="43" rx="20" ry="19"/><rect x="18" y="40" width="62" height="22"/></g><g fill="#d0d0d0"><ellipse cx="18" cy="42" rx="18" ry="20"/><ellipse cx="52" cy="25" rx="25" ry="25"/><ellipse cx="80" cy="43" rx="20" ry="19"/><rect x="18" y="40" width="62" height="22"/></g><path d="M77.5 24.5A20 19 0 0 0 61 45" fill="none" stroke="#2a5fb5" stroke-width="8.56" stroke-linecap="round"/></g></g>
<g transform="translate(248.00,97.0)"><path transform="translate(-3.70,0)" d="M3.8 3.5C-4.5 3.7 -10.7 9.5 -10.7 16.6C-10.7 24.5 -4 30.1 3.3 29.3C-1.5 26 -3.3 21 -3.3 15.7C-3.3 10.5 0 6 3.8 3.5Z" fill="none" stroke="#000" stroke-width="1.45" stroke-linejoin="round"/><g transform="translate(-8.10,14.80) scale(0.2210,0.2226)"><g fill="#3a5a84" stroke="#3a5a84" stroke-width="14.43"><ellipse cx="18" cy="42" rx="18" ry="20"/><ellipse cx="52" cy="25" rx="25" ry="25"/><ellipse cx="80" cy="43" rx="20" ry="19"/><rect x="18" y="40" width="62" height="22"/></g><g fill="#d0d0d0"><ellipse cx="18" cy="42" rx="18" ry="20"/><ellipse cx="52" cy="25" rx="25" ry="25"/><ellipse cx="80" cy="43" rx="20" ry="19"/><rect x="18" y="40" width="62" height="22"/></g><path d="M77.5 24.5A20 19 0 0 0 61 45" fill="none" stroke="#3a5a84" stroke-width="7.21" stroke-linecap="round"/></g></g>
<g transform="translate(282.57,97.0)"><line x1="-18.6" y1="18.7" x2="18.2" y2="18.7" stroke="#3a5578" stroke-width="1.3"/><line x1="-16.7" y1="22.1" x2="16.9" y2="22.1" stroke="#3a5578" stroke-width="1.3"/><line x1="-15.6" y1="26.5" x2="16.4" y2="26.5" stroke="#3a5578" stroke-width="2.5"/><path transform="translate(1.30,0)" d="M3.8 3.5C-4.5 3.7 -10.7 9.5 -10.7 16.6C-10.7 24.5 -4 30.1 3.3 29.3C-1.5 26 -3.3 21 -3.3 15.7C-3.3 10.5 0 6 3.8 3.5Z" fill="none" stroke="#000" stroke-width="1.45" stroke-linejoin="round"/></g>
<g transform="translate(317.14,97.0)"><g clip-path="url(#sunclip)"><path d="M1.62 8.72L2.31 4.78M6.53 11.84L9.80 9.55M7.78 17.52L11.72 18.21M4.66 22.43L6.95 25.70M-1.02 23.68L-1.71 27.62M-5.93 20.56L-9.20 22.85M-7.18 14.88L-11.12 14.19M-4.06 9.97L-6.35 6.70" stroke="#f7bd2e" stroke-width="3.2" stroke-linecap="round" fill="none"/><path d="M1.62 8.72L2.31 4.78M6.53 11.84L9.80 9.55M7.78 17.52L11.72 18.21M4.66 22.43L6.95 25.70M-1.02 23.68L-1.71 27.62M-5.93 20.56L-9.20 22.85M-7.18 14.88L-11.12 14.19M-4.06 9.97L-6.35 6.70" stroke="#f6e822" stroke-width="2.2" stroke-linecap="round" fill="none"/><circle cx="0.30" cy="16.20" r="5.9" fill="#f6e822" stroke="#f6ae25" stroke-width="0.7"/></g><rect x="-13" y="19.6" width="26" height="10.5" fill="#f7e71f" opacity="0.18"/><line x1="-18.2" y1="20.6" x2="18.4" y2="20.6" stroke="#5b86c8" stroke-width="1.8"/><line x1="-16.8" y1="24.3" x2="17.8" y2="24.3" stroke="#5b86c8" stroke-width="1.8"/><line x1="-14.9" y1="28.5" x2="16.7" y2="28.5" stroke="#5b86c8" stroke-width="3"/></g>
<g transform="translate(351.71,97.0)"><g><path d="M4.72 8.82L5.41 4.88M9.63 11.94L12.90 9.65M10.88 17.62L14.82 18.31M7.76 22.53L10.05 25.80M2.08 23.78L1.39 27.72M-2.83 20.66L-6.10 22.95M-4.08 14.98L-8.02 14.29M-0.96 10.07L-3.25 6.80" stroke="#f7bd2e" stroke-width="3.2" stroke-linecap="round" fill="none"/><path d="M4.72 8.82L5.41 4.88M9.63 11.94L12.90 9.65M10.88 17.62L14.82 18.31M7.76 22.53L10.05 25.80M2.08 23.78L1.39 27.72M-2.83 20.66L-6.10 22.95M-4.08 14.98L-8.02 14.29M-0.96 10.07L-3.25 6.80" stroke="#f6e822" stroke-width="2.2" stroke-linecap="round" fill="none"/><circle cx="3.40" cy="16.30" r="5.9" fill="#f6e822" stroke="#f6ae25" stroke-width="0.7"/></g><g transform="translate(-14.70,17.80) scale(0.1900,0.1839)"><g fill="#2a5fb5" stroke="#2a5fb5" stroke-width="17.12"><ellipse cx="18" cy="42" rx="18" ry="20"/><ellipse cx="52" cy="25" rx="25" ry="25"/><ellipse cx="80" cy="43" rx="20" ry="19"/><rect x="18" y="40" width="62" height="22"/></g><g fill="#d0d0d0"><ellipse cx="18" cy="42" rx="18" ry="20"/><ellipse cx="52" cy="25" rx="25" ry="25"/><ellipse cx="80" cy="43" rx="20" ry="19"/><rect x="18" y="40" width="62" height="22"/></g><path d="M77.5 24.5A20 19 0 0 0 61 45" fill="none" stroke="#2a5fb5" stroke-width="8.56" stroke-linecap="round"/></g></g>
<g transform="translate(386.29,97.0)"><path transform="translate(0.00,0)" d="M3.8 3.5C-4.5 3.7 -10.7 9.5 -10.7 16.6C-10.7 24.5 -4 30.1 3.3 29.3C-1.5 26 -3.3 21 -3.3 15.7C-3.3 10.5 0 6 3.8 3.5Z" fill="none" stroke="#000" stroke-width="1.45" stroke-linejoin="round"/><g transform="translate(-3.40,18.60) scale(0.1400,0.1387)"><g fill="#3a5a84" stroke="#3a5a84" stroke-width="21.53"><ellipse cx="18" cy="42" rx="18" ry="20"/><ellipse cx="52" cy="25" rx="25" ry="25"/><ellipse cx="80" cy="43" rx="20" ry="19"/><rect x="18" y="40" width="62" height="22"/></g><g fill="#d0d0d0"><ellipse cx="18" cy="42" rx="18" ry="20"/><ellipse cx="52" cy="25" rx="25" ry="25"/><ellipse cx="80" cy="43" rx="20" ry="19"/><rect x="18" y="40" width="62" height="22"/></g><path d="M77.5 24.5A20 19 0 0 0 61 45" fill="none" stroke="#3a5a84" stroke-width="10.76" stroke-linecap="round"/></g></g>
<g transform="translate(420.86,97.0)"><line x1="-18.6" y1="18.7" x2="18.2" y2="18.7" stroke="#3a5578" stroke-width="1.3"/><line x1="-16.7" y1="22.1" x2="16.9" y2="22.1" stroke="#3a5578" stroke-width="1.3"/><line x1="-15.6" y1="26.5" x2="16.4" y2="26.5" stroke="#3a5578" stroke-width="2.5"/><path transform="translate(1.30,0)" d="M3.8 3.5C-4.5 3.7 -10.7 9.5 -10.7 16.6C-10.7 24.5 -4 30.1 3.3 29.3C-1.5 26 -3.3 21 -3.3 15.7C-3.3 10.5 0 6 3.8 3.5Z" fill="none" stroke="#000" stroke-width="1.45" stroke-linejoin="round"/></g>
<g transform="translate(455.43,97.0)"><g clip-path="url(#sunclip)"><path d="M1.62 8.72L2.31 4.78M6.53 11.84L9.80 9.55M7.78 17.52L11.72 18.21M4.66 22.43L6.95 25.70M-1.02 23.68L-1.71 27.62M-5.93 20.56L-9.20 22.85M-7.18 14.88L-11.12 14.19M-4.06 9.97L-6.35 6.70" stroke="#f7bd2e" stroke-width="3.2" stroke-linecap="round" fill="none"/><path d="M1.62 8.72L2.31 4.78M6.53 11.84L9.80 9.55M7.78 17.52L11.72 18.21M4.66 22.43L6.95 25.70M-1.02 23.68L-1.71 27.62M-5.93 20.56L-9.20 22.85M-7.18 14.88L-11.12 14.19M-4.06 9.97L-6.35 6.70" stroke="#f6e822" stroke-width="2.2" stroke-linecap="round" fill="none"/><circle cx="0.30" cy="16.20" r="5.9" fill="#f6e822" stroke="#f6ae25" stroke-width="0.7"/></g><rect x="-13" y="19.6" width="26" height="10.5" fill="#f7e71f" opacity="0.18"/><line x1="-18.2" y1="20.6" x2="18.4" y2="20.6" stroke="#5b86c8" stroke-width="1.8"/><line x1="-16.8" y1="24.3" x2="17.8" y2="24.3" stroke="#5b86c8" stroke-width="1.8"/><line x1="-14.9" y1="28.5" x2="16.7" y2="28.5" stroke="#5b86c8" stroke-width="3"/></g>
<g transform="translate(490.00,97.0)"><g><path d="M-2.08 8.92L-1.39 4.98M2.83 12.04L6.10 9.75M4.08 17.72L8.02 18.41M0.96 22.63L3.25 25.90M-4.72 23.88L-5.41 27.82M-9.63 20.76L-12.90 23.05M-10.88 15.08L-14.82 14.39M-7.76 10.17L-10.05 6.90" stroke="#f7bd2e" stroke-width="3.2" stroke-linecap="round" fill="none"/><path d="M-2.08 8.92L-1.39 4.98M2.83 12.04L6.10 9.75M4.08 17.72L8.02 18.41M0.96 22.63L3.25 25.90M-4.72 23.88L-5.41 27.82M-9.63 20.76L-12.90 23.05M-10.88 15.08L-14.82 14.39M-7.76 10.17L-10.05 6.90" stroke="#f6e822" stroke-width="2.2" stroke-linecap="round" fill="none"/><circle cx="-3.40" cy="16.40" r="5.9" fill="#f6e822" stroke="#f6ae25" stroke-width="0.7"/></g><g transform="translate(-2.10,18.30) scale(0.1490,0.1419)"><g fill="#2a5fb5" stroke="#2a5fb5" stroke-width="20.62"><ellipse cx="18" cy="42" rx="18" ry="20"/><ellipse cx="52" cy="25" rx="25" ry="25"/><ellipse cx="80" cy="43" rx="20" ry="19"/><rect x="18" y="40" width="62" height="22"/></g><g fill="#fff"><ellipse cx="18" cy="42" rx="18" ry="20"/><ellipse cx="52" cy="25" rx="25" ry="25"/><ellipse cx="80" cy="43" rx="20" ry="19"/><rect x="18" y="40" width="62" height="22"/></g><path d="M77.5 24.5A20 19 0 0 0 61 45" fill="none" stroke="#2a5fb5" stroke-width="10.31" stroke-linecap="round"/></g></g>
<g transform="translate(524.57,97.0)"><path transform="translate(0.00,0)" d="M3.8 3.5C-4.5 3.7 -10.7 9.5 -10.7 16.6C-10.7 24.5 -4 30.1 3.3 29.3C-1.5 26 -3.3 21 -3.3 15.7C-3.3 10.5 0 6 3.8 3.5Z" fill="none" stroke="#000" stroke-width="1.45" stroke-linejoin="round"/><g transform="translate(-3.40,18.60) scale(0.1400,0.1387)"><g fill="#3a5a84" stroke="#3a5a84" stroke-width="21.53"><ellipse cx="18" cy="42" rx="18" ry="20"/><ellipse cx="52" cy="25" rx="25" ry="25"/><ellipse cx="80" cy="43" rx="20" ry="19"/><rect x="18" y="40" width="62" height="22"/></g><g fill="#d0d0d0"><ellipse cx="18" cy="42" rx="18" ry="20"/><ellipse cx="52" cy="25" rx="25" ry="25"/><ellipse cx="80" cy="43" rx="20" ry="19"/><rect x="18" y="40" width="62" height="22"/></g><path d="M77.5 24.5A20 19 0 0 0 61 45" fill="none" stroke="#3a5a84" stroke-width="10.76" stroke-linecap="round"/></g></g>
<g transform="translate(559.14,97.0)"><path transform="translate(0.00,0)" d="M3.8 3.5C-4.5 3.7 -10.7 9.5 -10.7 16.6C-10.7 24.5 -4 30.1 3.3 29.3C-1.5 26 -3.3 21 -3.3 15.7C-3.3 10.5 0 6 3.8 3.5Z" fill="none" stroke="#000" stroke-width="1.45" stroke-linejoin="round"/><g transform="translate(-3.40,18.60) scale(0.1400,0.1387)"><g fill="#3a5a84" stroke="#3a5a84" stroke-width="21.53"><ellipse cx="18" cy="42" rx="18" ry="20"/><ellipse cx="52" cy="25" rx="25" ry="25"/><ellipse cx="80" cy="43" rx="20" ry="19"/><rect x="18" y="40" width="62" height="22"/></g><g fill="#d0d0d0"><ellipse cx="18" cy="42" rx="18" ry="20"/><ellipse cx="52" cy="25" rx="25" ry="25"/><ellipse cx="80" cy="43" rx="20" ry="19"/><rect x="18" y="40" width="62" height="22"/></g><path d="M77.5 24.5A20 19 0 0 0 61 45" fill="none" stroke="#3a5a84" stroke-width="10.76" stroke-linecap="round"/></g></g>
<g transform="translate(593.71,97.0)"><g><path d="M-2.08 8.92L-1.39 4.98M2.83 12.04L6.10 9.75M4.08 17.72L8.02 18.41M0.96 22.63L3.25 25.90M-4.72 23.88L-5.41 27.82M-9.63 20.76L-12.90 23.05M-10.88 15.08L-14.82 14.39M-7.76 10.17L-10.05 6.90" stroke="#f7bd2e" stroke-width="3.2" stroke-linecap="round" fill="none"/><path d="M-2.08 8.92L-1.39 4.98M2.83 12.04L6.10 9.75M4.08 17.72L8.02 18.41M0.96 22.63L3.25 25.90M-4.72 23.88L-5.41 27.82M-9.63 20.76L-12.90 23.05M-10.88 15.08L-14.82 14.39M-7.76 10.17L-10.05 6.90" stroke="#f6e822" stroke-width="2.2" stroke-linecap="round" fill="none"/><circle cx="-3.40" cy="16.40" r="5.9" fill="#f6e822" stroke="#f6ae25" stroke-width="0.7"/></g><g transform="translate(-2.10,18.30) scale(0.1490,0.1419)"><g fill="#2a5fb5" stroke="#2a5fb5" stroke-width="20.62"><ellipse cx="18" cy="42" rx="18" ry="20"/><ellipse cx="52" cy="25" rx="25" ry="25"/><ellipse cx="80" cy="43" rx="20" ry="19"/><rect x="18" y="40" width="62" height="22"/></g><g fill="#fff"><ellipse cx="18" cy="42" rx="18" ry="20"/><ellipse cx="52" cy="25" rx="25" ry="25"/><ellipse cx="80" cy="43" rx="20" ry="19"/><rect x="18" y="40" width="62" height="22"/></g><path d="M77.5 24.5A20 19 0 0 0 61 45" fill="none" stroke="#2a5fb5" stroke-width="10.31" stroke-linecap="round"/></g></g>
<g transform="translate(628.29,97.0)"><g><path d="M-2.08 8.92L-1.39 4.98M2.83 12.04L6.10 9.75M4.08 17.72L8.02 18.41M0.96 22.63L3.25 25.90M-4.72 23.88L-5.41 27.82M-9.63 20.76L-12.90 23.05M-10.88 15.08L-14.82 14.39M-7.76 10.17L-10.05 6.90" stroke="#f7bd2e" stroke-width="3.2" stroke-linecap="round" fill="none"/><path d="M-2.08 8.92L-1.39 4.98M2.83 12.04L6.10 9.75M4.08 17.72L8.02 18.41M0.96 22.63L3.25 25.90M-4.72 23.88L-5.41 27.82M-9.63 20.76L-12.90 23.05M-10.88 15.08L-14.82 14.39M-7.76 10.17L-10.05 6.90" stroke="#f6e822" stroke-width="2.2" stroke-linecap="round" fill="none"/><circle cx="-3.40" cy="16.40" r="5.9" fill="#f6e822" stroke="#f6ae25" stroke-width="0.7"/></g><g transform="translate(-2.10,18.30) scale(0.1490,0.1419)"><g fill="#2a5fb5" stroke="#2a5fb5" stroke-width="20.62"><ellipse cx="18" cy="42" rx="18" ry="20"/><ellipse cx="52" cy="25" rx="25" ry="25"/><ellipse cx="80" cy="43" rx="20" ry="19"/><rect x="18" y="40" width="62" height="22"/></g><g fill="#fff"><ellipse cx="18" cy="42" rx="18" ry="20"/><ellipse cx="52" cy="25" rx="25" ry="25"/><ellipse cx="80" cy="43" rx="20" ry="19"/><rect x="18" y="40" width="62" height="22"/></g><path d="M77.5 24.5A20 19 0 0 0 61 45" fill="none" stroke="#2a5fb5" stroke-width="10.31" stroke-linecap="round"/></g></g>
<g transform="translate(662.86,97.0)"><path transform="translate(0.00,0)" d="M3.8 3.5C-4.5 3.7 -10.7 9.5 -10.7 16.6C-10.7 24.5 -4 30.1 3.3 29.3C-1.5 26 -3.3 21 -3.3 15.7C-3.3 10.5 0 6 3.8 3.5Z" fill="none" stroke="#000" stroke-width="1.45" stroke-linejoin="round"/><g transform="translate(-3.40,18.60) scale(0.1400,0.1387)"><g fill="#3a5a84" stroke="#3a5a84" stroke-width="21.53"><ellipse cx="18" cy="42" rx="18" ry="20"/><ellipse cx="52" cy="25" rx="25" ry="25"/><ellipse cx="80" cy="43" rx="20" ry="19"/><rect x="18" y="40" width="62" height="22"/></g><g fill="#d0d0d0"><ellipse cx="18" cy="42" rx="18" ry="20"/><ellipse cx="52" cy="25" rx="25" ry="25"/><ellipse cx="80" cy="43" rx="20" ry="19"/><rect x="18" y="40" width="62" height="22"/></g><path d="M77.5 24.5A20 19 0 0 0 61 45" fill="none" stroke="#3a5a84" stroke-width="10.76" stroke-linecap="round"/></g></g>
<g transform="translate(697.43,97.0)"><line x1="-18.6" y1="18.7" x2="18.2" y2="18.7" stroke="#3a5578" stroke-width="1.3"/><line x1="-16.7" y1="22.1" x2="16.9" y2="22.1" stroke="#3a5578" stroke-width="1.3"/><line x1="-15.6" y1="26.5" x2="16.4" y2="26.5" stroke="#3a5578" stroke-width="2.5"/><path transform="translate(1.30,0)" d="M3.8 3.5C-4.5 3.7 -10.7 9.5 -10.7 16.6C-10.7 24.5 -4 30.1 3.3 29.3C-1.5 26 -3.3 21 -3.3 15.7C-3.3 10.5 0 6 3.8 3.5Z" fill="none" stroke="#000" stroke-width="1.45" stroke-linejoin="round"/></g>
<g transform="translate(732.00,97.0)"><g clip-path="url(#sunclip)"><path d="M1.62 8.72L2.31 4.78M6.53 11.84L9.80 9.55M7.78 17.52L11.72 18.21M4.66 22.43L6.95 25.70M-1.02 23.68L-1.71 27.62M-5.93 20.56L-9.20 22.85M-7.18 14.88L-11.12 14.19M-4.06 9.97L-6.35 6.70" stroke="#f7bd2e" stroke-width="3.2" stroke-linecap="round" fill="none"/><path d="M1.62 8.72L2.31 4.78M6.53 11.84L9.80 9.55M7.78 17.52L11.72 18.21M4.66 22.43L6.95 25.70M-1.02 23.68L-1.71 27.62M-5.93 20.56L-9.20 22.85M-7.18 14.88L-11.12 14.19M-4.06 9.97L-6.35 6.70" stroke="#f6e822" stroke-width="2.2" stroke-linecap="round" fill="none"/><circle cx="0.30" cy="16.20" r="5.9" fill="#f6e822" stroke="#f6ae25" stroke-width="0.7"/></g><rect x="-13" y="19.6" width="26" height="10.5" fill="#f7e71f" opacity="0.18"/><line x1="-18.2" y1="20.6" x2="18.4" y2="20.6" stroke="#5b86c8" stroke-width="1.8"/><line x1="-16.8" y1="24.3" x2="17.8" y2="24.3" stroke="#5b86c8" stroke-width="1.8"/><line x1="-14.9" y1="28.5" x2="16.7" y2="28.5" stroke="#5b86c8" stroke-width="3"/></g>
<g transform="translate(766.57,97.0)"><g><path d="M4.72 8.82L5.41 4.88M9.63 11.94L12.90 9.65M10.88 17.62L14.82 18.31M7.76 22.53L10.05 25.80M2.08 23.78L1.39 27.72M-2.83 20.66L-6.10 22.95M-4.08 14.98L-8.02 14.29M-0.96 10.07L-3.25 6.80" stroke="#f7bd2e" stroke-width="3.2" stroke-linecap="round" fill="none"/><path d="M4.72 8.82L5.41 4.88M9.63 11.94L12.90 9.65M10.88 17.62L14.82 18.31M7.76 22.53L10.05 25.80M2.08 23.78L1.39 27.72M-2.83 20.66L-6.10 22.95M-4.08 14.98L-8.02 14.29M-0.96 10.07L-3.25 6.80" stroke="#f6e822" stroke-width="2.2" stroke-linecap="round" fill="none"/><circle cx="3.40" cy="16.30" r="5.9" fill="#f6e822" stroke="#f6ae25" stroke-width="0.7"/></g><g transform="translate(-14.70,17.80) scale(0.1900,0.1839)"><g fill="#2a5fb5" stroke="#2a5fb5" stroke-width="17.12"><ellipse cx="18" cy="42" rx="18" ry="20"/><ellipse cx="52" cy="25" rx="25" ry="25"/><ellipse cx="80" cy="43" rx="20" ry="19"/><rect x="18" y="40" width="62" height="22"/></g><g fill="#d0d0d0"><ellipse cx="18" cy="42" rx="18" ry="20"/><ellipse cx="52" cy="25" rx="25" ry="25"/><ellipse cx="80" cy="43" rx="20" ry="19"/><rect x="18" y="40" width="62" height="22"/></g><path d="M77.5 24.5A20 19 0 0 0 61 45" fill="none" stroke="#2a5fb5" stroke-width="8.56" stroke-linecap="round"/></g></g>
<g transform="translate(801.14,97.0)"><path transform="translate(-3.70,0)" d="M3.8 3.5C-4.5 3.7 -10.7 9.5 -10.7 16.6C-10.7 24.5 -4 30.1 3.3 29.3C-1.5 26 -3.3 21 -3.3 15.7C-3.3 10.5 0 6 3.8 3.5Z" fill="none" stroke="#000" stroke-width="1.45" stroke-linejoin="round"/><g transform="translate(-8.10,14.80) scale(0.2210,0.2226)"><g fill="#3a5a84" stroke="#3a5a84" stroke-width="14.43"><ellipse cx="18" cy="42" rx="18" ry="20"/><ellipse cx="52" cy="25" rx="25" ry="25"/><ellipse cx="80" cy="43" rx="20" ry="19"/><rect x="18" y="40" width="62" height="22"/></g><g fill="#d0d0d0"><ellipse cx="18" cy="42" rx="18" ry="20"/><ellipse cx="52" cy="25" rx="25" ry="25"/><ellipse cx="80" cy="43" rx="20" ry="19"/><rect x="18" y="40" width="62" height="22"/></g><path d="M77.5 24.5A20 19 0 0 0 61 45" fill="none" stroke="#3a5a84" stroke-width="7.21" stroke-linecap="round"/></g></g>
<g transform="translate(835.71,97.0)"><path transform="translate(-3.70,0)" d="M3.8 3.5C-4.5 3.7 -10.7 9.5 -10.7 16.6C-10.7 24.5 -4 30.1 3.3 29.3C-1.5 26 -3.3 21 -3.3 15.7C-3.3 10.5 0 6 3.8 3.5Z" fill="none" stroke="#000" stroke-width="1.45" stroke-linejoin="round"/><g transform="translate(-8.10,14.80) scale(0.2210,0.2226)"><g fill="#3a5a84" stroke="#3a5a84" stroke-width="14.43"><ellipse cx="18" cy="42" rx="18" ry="20"/><ellipse cx="52" cy="25" rx="25" ry="25"/><ellipse cx="80" cy="43" rx="20" ry="19"/><rect x="18" y="40" width="62" height="22"/></g><g fill="#d0d0d0"><ellipse cx="18" cy="42" rx="18" ry="20"/><ellipse cx="52" cy="25" rx="25" ry="25"/><ellipse cx="80" cy="43" rx="20" ry="19"/><rect x="18" y="40" width="62" height="22"/></g><path d="M77.5 24.5A20 19 0 0 0 61 45" fill="none" stroke="#3a5a84" stroke-width="7.21" stroke-linecap="round"/></g></g>
<g transform="translate(870.29,97.0)"><g><path d="M4.72 8.82L5.41 4.88M9.63 11.94L12.90 9.65M10.88 17.62L14.82 18.31M7.76 22.53L10.05 25.80M2.08 23.78L1.39 27.72M-2.83 20.66L-6.10 22.95M-4.08 14.98L-8.02 14.29M-0.96 10.07L-3.25 6.80" stroke="#f7bd2e" stroke-width="3.2" stroke-linecap="round" fill="none"/><path d="M4.72 8.82L5.41 4.88M9.63 11.94L12.90 9.65M10.88 17.62L14.82 18.31M7.76 22.53L10.05 25.80M2.08 23.78L1.39 27.72M-2.83 20.66L-6.10 22.95M-4.08 14.98L-8.02 14.29M-0.96 10.07L-3.25 6.80" stroke="#f6e822" stroke-width="2.2" stroke-linecap="round" fill="none"/><circle cx="3.40" cy="16.30" r="5.9" fill="#f6e822" stroke="#f6ae25" stroke-width="0.7"/></g><g transform="translate(-14.70,17.80) scale(0.1900,0.1839)"><g fill="#2a5fb5" stroke="#2a5fb5" stroke-width="17.12"><ellipse cx="18" cy="42" rx="18" ry="20"/><ellipse cx="52" cy="25" rx="25" ry="25"/><ellipse cx="80" cy="43" rx="20" ry="19"/><rect x="18" y="40" width="62" height="22"/></g><g fill="#d0d0d0"><ellipse cx="18" cy="42" rx="18" ry="20"/><ellipse cx="52" cy="25" rx="25" ry="25"/><ellipse cx="80" cy="43" rx="20" ry="19"/><rect x="18" y="40" width="62" height="22"/></g><path d="M77.5 24.5A20 19 0 0 0 61 45" fill="none" stroke="#2a5fb5" stroke-width="8.56" stroke-linecap="round"/></g></g>
<g transform="translate(904.86,97.0)"><g><path d="M4.72 8.82L5.41 4.88M9.63 11.94L12.90 9.65M10.88 17.62L14.82 18.31M7.76 22.53L10.05 25.80M2.08 23.78L1.39 27.72M-2.83 20.66L-6.10 22.95M-4.08 14.98L-8.02 14.29M-0.96 10.07L-3.25 6.80" stroke="#f7bd2e" stroke-width="3.2" stroke-linecap="round" fill="none"/><path d="M4.72 8.82L5.41 4.88M9.63 11.94L12.90 9.65M10.88 17.62L14.82 18.31M7.76 22.53L10.05 25.80M2.08 23.78L1.39 27.72M-2.83 20.66L-6.10 22.95M-4.08 14.98L-8.02 14.29M-0.96 10.07L-3.25 6.80" stroke="#f6e822" stroke-width="2.2" stroke-linecap="round" fill="none"/><circle cx="3.40" cy="16.30" r="5.9" fill="#f6e822" stroke="#f6ae25" stroke-width="0.7"/></g><g transform="translate(-14.70,17.80) scale(0.1900,0.1839)"><g fill="#2a5fb5" stroke="#2a5fb5" stroke-width="17.12"><ellipse cx="18" cy="42" rx="18" ry="20"/><ellipse cx="52" cy="25" rx="25" ry="25"/><ellipse cx="80" cy="43" rx="20" ry="19"/><rect x="18" y="40" width="62" height="22"/></g><g fill="#d0d0d0"><ellipse cx="18" cy="42" rx="18" ry="20"/><ellipse cx="52" cy="25" rx="25" ry="25"/><ellipse cx="80" cy="43" rx="20" ry="19"/><rect x="18" y="40" width="62" height="22"/></g><path d="M77.5 24.5A20 19 0 0 0 61 45" fill="none" stroke="#2a5fb5" stroke-width="8.56" stroke-linecap="round"/></g></g>
<g transform="translate(939.43,97.0)"><path transform="translate(-3.70,0)" d="M3.8 3.5C-4.5 3.7 -10.7 9.5 -10.7 16.6C-10.7 24.5 -4 30.1 3.3 29.3C-1.5 26 -3.3 21 -3.3 15.7C-3.3 10.5 0 6 3.8 3.5Z" fill="none" stroke="#000" stroke-width="1.45" stroke-linejoin="round"/><g transform="translate(-8.10,14.80) scale(0.2210,0.2226)"><g fill="#3a5a84" stroke="#3a5a84" stroke-width="14.43"><ellipse cx="18" cy="42" rx="18" ry="20"/><ellipse cx="52" cy="25" rx="25" ry="25"/><ellipse cx="80" cy="43" rx="20" ry="19"/><rect x="18" y="40" width="62" height="22"/></g><g fill="#d0d0d0"><ellipse cx="18" cy="42" rx="18" ry="20"/><ellipse cx="52" cy="25" rx="25" ry="25"/><ellipse cx="80" cy="43" rx="20" ry="19"/><rect x="18" y="40" width="62" height="22"/></g><path d="M77.5 24.5A20 19 0 0 0 61 45" fill="none" stroke="#3a5a84" stroke-width="7.21" stroke-linecap="round"/></g></g>
<g transform="translate(974.00,97.0)"><path transform="translate(-3.70,0)" d="M3.8 3.5C-4.5 3.7 -10.7 9.5 -10.7 16.6C-10.7 24.5 -4 30.1 3.3 29.3C-1.5 26 -3.3 21 -3.3 15.7C-3.3 10.5 0 6 3.8 3.5Z" fill="none" stroke="#000" stroke-width="1.45" stroke-linejoin="round"/><g transform="translate(-8.10,14.80) scale(0.2210,0.2226)"><g fill="#3a5a84" stroke="#3a5a84" stroke-width="14.43"><ellipse cx="18" cy="42" rx="18" ry="20"/><ellipse cx="52" cy="25" rx="25" ry="25"/><ellipse cx="80" cy="43" rx="20" ry="19"/><rect x="18" y="40" width="62" height="22"/></g><g fill="#d0d0d0"><ellipse cx="18" cy="42" rx="18" ry="20"/><ellipse cx="52" cy="25" rx="25" ry="25"/><ellipse cx="80" cy="43" rx="20" ry="19"/><rect x="18" y="40" width="62" height="22"/></g><path d="M77.5 24.5A20 19 0 0 0 61 45" fill="none" stroke="#3a5a84" stroke-width="7.21" stroke-linecap="round"/></g></g>
<g transform="translate(1008.57,97.0)"><g><path d="M4.72 8.82L5.41 4.88M9.63 11.94L12.90 9.65M10.88 17.62L14.82 18.31M7.76 22.53L10.05 25.80M2.08 23.78L1.39 27.72M-2.83 20.66L-6.10 22.95M-4.08 14.98L-8.02 14.29M-0.96 10.07L-3.25 6.80" stroke="#f7bd2e" stroke-width="3.2" stroke-linecap="round" fill="none"/><path d="M4.72 8.82L5.41 4.88M9.63 11.94L12.90 9.65M10.88 17.62L14.82 18.31M7.76 22.53L10.05 25.80M2.08 23.78L1.39 27.72M-2.83 20.66L-6.10 22.95M-4.08 14.98L-8.02 14.29M-0.96 10.07L-3.25 6.80" stroke="#f6e822" stroke-width="2.2" stroke-linecap="round" fill="none"/><circle cx="3.40" cy="16.30" r="5.9" fill="#f6e822" stroke="#f6ae25" stroke-width="0.7"/></g><g transform="translate(-14.70,17.80) scale(0.1900,0.1839)"><g fill="#2a5fb5" stroke="#2a5fb5" stroke-width="17.12"><ellipse cx="18" cy="42" rx="18" ry="20"/><ellipse cx="52" cy="25" rx="25" ry="25"/><ellipse cx="80" cy="43" rx="20" ry="19"/><rect x="18" y="40" width="62" height="22"/></g><g fill="#d0d0d0"><ellipse cx="18" cy="42" rx="18" ry="20"/><ellipse cx="52" cy="25" rx="25" ry="25"/><ellipse cx="80" cy="43" rx="20" ry="19"/><rect x="18" y="40" width="62" height="22"/></g><path d="M77.5 24.5A20 19 0 0 0 61 45" fill="none" stroke="#2a5fb5" stroke-width="8.56" stroke-linecap="round"/></g></g>
<g transform="translate(1043.14,97.0)"><g><path d="M5.92 8.72L6.61 4.78M10.83 11.84L14.10 9.55M12.08 17.52L16.02 18.21M8.96 22.43L11.25 25.70M3.28 23.68L2.59 27.62M-1.63 20.56L-4.90 22.85M-2.88 14.88L-6.82 14.19M0.24 9.97L-2.05 6.70" stroke="#f7bd2e" stroke-width="3.2" stroke-linecap="round" fill="none"/><path d="M5.92 8.72L6.61 4.78M10.83 11.84L14.10 9.55M12.08 17.52L16.02 18.21M8.96 22.43L11.25 25.70M3.28 23.68L2.59 27.62M-1.63 20.56L-4.90 22.85M-2.88 14.88L-6.82 14.19M0.24 9.97L-2.05 6.70" stroke="#f6e822" stroke-width="2.2" stroke-linecap="round" fill="none"/><circle cx="4.60" cy="16.20" r="5.9" fill="#f6e822" stroke="#f6ae25" stroke-width="0.7"/></g><g transform="translate(-14.00,17.90) scale(0.1900,0.1887)"><g fill="#2a5fb5" stroke="#2a5fb5" stroke-width="16.90"><ellipse cx="18" cy="42" rx="18" ry="20"/><ellipse cx="52" cy="25" rx="25" ry="25"/><ellipse cx="80" cy="43" rx="20" ry="19"/><rect x="18" y="40" width="62" height="22"/></g><g fill="#d0d0d0"><ellipse cx="18" cy="42" rx="18" ry="20"/><ellipse cx="52" cy="25" rx="25" ry="25"/><ellipse cx="80" cy="43" rx="20" ry="19"/><rect x="18" y="40" width="62" height="22"/></g><path d="M77.5 24.5A20 19 0 0 0 61 45" fill="none" stroke="#2a5fb5" stroke-width="8.45" stroke-linecap="round"/></g><line x1="-7.20" y1="33.00" x2="-8.60" y2="36.50" stroke="#3a68b5" stroke-width="1.8"/><line x1="-3.10" y1="33.00" x2="-4.50" y2="36.50" stroke="#3a68b5" stroke-width="1.8"/></g>
<g transform="translate(1077.71,97.0)"><path transform="translate(-2.60,0)" d="M3.8 3.5C-4.5 3.7 -10.7 9.5 -10.7 16.6C-10.7 24.5 -4 30.1 3.3 29.3C-1.5 26 -3.3 21 -3.3 15.7C-3.3 10.5 0 6 3.8 3.5Z" fill="none" stroke="#000" stroke-width="1.45" stroke-linejoin="round"/><g transform="translate(-6.70,16.20) scale(0.1720,0.1710)"><g fill="#3a5a84" stroke="#3a5a84" stroke-width="18.66"><ellipse cx="18" cy="42" rx="18" ry="20"/><ellipse cx="52" cy="25" rx="25" ry="25"/><ellipse cx="80" cy="43" rx="20" ry="19"/><rect x="18" y="40" width="62" height="22"/></g><g fill="#d0d0d0"><ellipse cx="18" cy="42" rx="18" ry="20"/><ellipse cx="52" cy="25" rx="25" ry="25"/><ellipse cx="80" cy="43" rx="20" ry="19"/><rect x="18" y="40" width="62" height="22"/></g><path d="M77.5 24.5A20 19 0 0 0 61 45" fill="none" stroke="#3a5a84" stroke-width="9.33" stroke-linecap="round"/></g><line x1="3.50" y1="31.30" x2="2.10" y2="36.40" stroke="#2f5288" stroke-width="1.8"/><line x1="8.00" y1="31.30" x2="6.60" y2="36.40" stroke="#2f5288" stroke-width="1.8"/></g>
<circle cx="127.00" cy="153.00" r="3.55" fill="none" stroke="#000" stroke-width="1.50"/>
<circle cx="144.29" cy="153.00" r="3.55" fill="none" stroke="#000" stroke-width="1.50"/>
<circle cx="161.57" cy="153.00" r="3.55" fill="none" stroke="#000" stroke-width="1.50"/>
<circle cx="178.86" cy="153.00" r="3.55" fill="none" stroke="#000" stroke-width="1.50"/>
<path transform="translate(196.14,153.00) rotate(-31.0)" d="M-12.40 0L12.40 0M7.75 0L9.30 4.96" fill="none" stroke="#000" stroke-width="1.70" stroke-linecap="butt"/>
<path transform="translate(213.43,153.00) rotate(-15.0)" d="M-12.40 0L12.40 0M7.75 0L9.30 4.96" fill="none" stroke="#000" stroke-width="1.70" stroke-linecap="butt"/>
<circle cx="230.71" cy="153.00" r="3.55" fill="none" stroke="#000" stroke-width="1.50"/>
<circle cx="248.00" cy="153.00" r="3.55" fill="none" stroke="#000" stroke-width="1.50"/>
<circle cx="265.29" cy="153.00" r="3.55" fill="none" stroke="#000" stroke-width="1.50"/>
<circle cx="282.57" cy="153.00" r="3.55" fill="none" stroke="#000" stroke-width="1.50"/>
<circle cx="299.86" cy="153.00" r="3.55" fill="none" stroke="#000" stroke-width="1.50"/>
<circle cx="317.14" cy="153.00" r="3.55" fill="none" stroke="#000" stroke-width="1.50"/>
<path transform="translate(334.43,153.00) rotate(-24.0)" d="M-12.40 0L12.40 0M7.75 0L9.30 4.96" fill="none" stroke="#000" stroke-width="1.70" stroke-linecap="butt"/>
<path transform="translate(351.71,153.00) rotate(-10.0)" d="M-12.40 0L12.40 0M7.75 0L9.30 4.96" fill="none" stroke="#000" stroke-width="1.70" stroke-linecap="butt"/>
<path transform="translate(369.00,153.00) rotate(-26.0)" d="M-12.40 0L12.40 0M7.75 0L9.30 4.96" fill="none" stroke="#000" stroke-width="1.70" stroke-linecap="butt"/>
<circle cx="386.29" cy="153.00" r="3.55" fill="none" stroke="#000" stroke-width="1.50"/>
<circle cx="403.57" cy="153.00" r="3.55" fill="none" stroke="#000" stroke-width="1.50"/>
<circle cx="420.86" cy="153.00" r="3.55" fill="none" stroke="#000" stroke-width="1.50"/>
<circle cx="438.14" cy="153.00" r="3.55" fill="none" stroke="#000" stroke-width="1.50"/>
<circle cx="455.43" cy="153.00" r="3.55" fill="none" stroke="#000" stroke-width="1.50"/>
<path transform="translate(472.71,153.00) rotate(-15.0)" d="M-12.40 0L12.40 0M7.75 0L9.30 4.96" fill="none" stroke="#000" stroke-width="1.70" stroke-linecap="butt"/>
<path transform="translate(490.00,153.00) rotate(-3.0)" d="M-12.40 0L12.40 0M7.75 0L9.30 4.96" fill="none" stroke="#000" stroke-width="1.70" stroke-linecap="butt"/>
<path transform="translate(507.29,153.00) rotate(5.0)" d="M-12.40 0L12.40 0M7.75 0L9.30 4.96" fill="none" stroke="#000" stroke-width="1.70" stroke-linecap="butt"/>
<circle cx="524.57" cy="153.00" r="3.55" fill="none" stroke="#000" stroke-width="1.50"/>
<circle cx="541.86" cy="153.00" r="3.55" fill="none" stroke="#000" stroke-width="1.50"/>
<circle cx="559.14" cy="153.00" r="3.55" fill="none" stroke="#000" stroke-width="1.50"/>
<circle cx="576.43" cy="153.00" r="3.55" fill="none" stroke="#000" stroke-width="1.50"/>
<circle cx="593.71" cy="153.00" r="3.55" fill="none" stroke="#000" stroke-width="1.50"/>
<path transform="translate(611.00,153.00) rotate(-16.0)" d="M-12.40 0L12.40 0M7.75 0L9.30 4.96" fill="none" stroke="#000" stroke-width="1.70" stroke-linecap="butt"/>
<path transform="translate(628.29,153.00) rotate(-1.5)" d="M-12.40 0L12.40 0M7.75 0L9.30 4.96" fill="none" stroke="#000" stroke-width="1.70" stroke-linecap="butt"/>
<path transform="translate(645.57,153.00) rotate(0.0)" d="M-12.40 0L12.40 0M7.75 0L9.30 4.96" fill="none" stroke="#000" stroke-width="1.70" stroke-linecap="butt"/>
<circle cx="662.86" cy="153.00" r="3.55" fill="none" stroke="#000" stroke-width="1.50"/>
<circle cx="680.14" cy="153.00" r="3.55" fill="none" stroke="#000" stroke-width="1.50"/>
<circle cx="697.43" cy="153.00" r="3.55" fill="none" stroke="#000" stroke-width="1.50"/>
<circle cx="714.71" cy="153.00" r="3.55" fill="none" stroke="#000" stroke-width="1.50"/>
<circle cx="732.00" cy="153.00" r="3.55" fill="none" stroke="#000" stroke-width="1.50"/>
<path transform="translate(749.29,153.00) rotate(-13.0)" d="M-12.40 0L12.40 0M7.75 0L9.30 4.96" fill="none" stroke="#000" stroke-width="1.70" stroke-linecap="butt"/>
<path transform="translate(766.57,153.00) rotate(5.5)" d="M-12.40 0L12.40 0M7.75 0L9.30 4.96" fill="none" stroke="#000" stroke-width="1.70" stroke-linecap="butt"/>
<path transform="translate(783.86,153.00) rotate(16.0)" d="M-12.40 0L12.40 0M7.75 0L9.30 4.96" fill="none" stroke="#000" stroke-width="1.70" stroke-linecap="butt"/>
<path transform="translate(801.14,153.00) rotate(-17.7)" d="M-12.40 0L12.40 0M7.75 0L9.30 4.96" fill="none" stroke="#000" stroke-width="1.70" stroke-linecap="butt"/>
<path transform="translate(818.43,153.00) rotate(-17.0)" d="M-12.40 0L12.40 0M7.75 0L9.30 4.96" fill="none" stroke="#000" stroke-width="1.70" stroke-linecap="butt"/>
<path transform="translate(835.71,153.00) rotate(-21.0)" d="M-12.40 0L12.40 0M7.75 0L9.30 4.96" fill="none" stroke="#000" stroke-width="1.70" stroke-linecap="butt"/>
<circle cx="853.00" cy="153.00" r="3.55" fill="none" stroke="#000" stroke-width="1.50"/>
<path transform="translate(870.29,153.00) rotate(-31.0)" d="M-12.40 0L12.40 0M7.75 0L9.30 4.96" fill="none" stroke="#000" stroke-width="1.70" stroke-linecap="butt"/>
<path transform="translate(887.57,153.00) rotate(-3.0)" d="M-12.40 0L12.40 0M7.75 0L9.30 4.96" fill="none" stroke="#000" stroke-width="1.70" stroke-linecap="butt"/>
<path transform="translate(904.86,153.00) rotate(3.0)" d="M-12.40 0L12.40 0M7.75 0L9.30 4.96" fill="none" stroke="#000" stroke-width="1.70" stroke-linecap="butt"/>
<path transform="translate(922.14,153.00) rotate(2.4)" d="M-12.40 0L12.40 0M7.75 0L9.30 4.96" fill="none" stroke="#000" stroke-width="1.70" stroke-linecap="butt"/>
<path transform="translate(939.43,153.00) rotate(2.0)" d="M-12.40 0L12.40 0M7.75 0L9.30 4.96" fill="none" stroke="#000" stroke-width="1.70" stroke-linecap="butt"/>
<circle cx="956.71" cy="153.00" r="3.55" fill="none" stroke="#000" stroke-width="1.50"/>
<circle cx="974.00" cy="153.00" r="3.55" fill="none" stroke="#000" stroke-width="1.50"/>
<circle cx="991.29" cy="153.00" r="3.55" fill="none" stroke="#000" stroke-width="1.50"/>
<circle cx="1008.57" cy="153.00" r="3.55" fill="none" stroke="#000" stroke-width="1.50"/>
<path transform="translate(1025.86,153.00) rotate(125.5)" d="M-12.40 0L12.40 0M7.75 0L9.30 4.96" fill="none" stroke="#000" stroke-width="1.70" stroke-linecap="butt"/>
<path transform="translate(1043.14,153.00) rotate(130.0)" d="M-12.40 0L12.40 0M7.75 0L9.30 4.96" fill="none" stroke="#000" stroke-width="1.70" stroke-linecap="butt"/>
<path transform="translate(1060.43,153.00) rotate(133.0)" d="M-12.40 0L12.40 0M7.75 0L9.30 4.96" fill="none" stroke="#000" stroke-width="1.70" stroke-linecap="butt"/>
<circle cx="1077.71" cy="153.00" r="3.55" fill="none" stroke="#000" stroke-width="1.50"/>
<circle cx="1095.00" cy="153.00" r="3.55" fill="none" stroke="#000" stroke-width="1.50"/>
<text x="10.00" y="22.00" font-size="16.00" fill="#0000ff">(kraj lahko izberete v meniju)</text>
<text x="1142.90" y="21.60" font-size="16.00" fill="#0000ff" text-anchor="end">Zadnja posodobitev: 14.10.2025 - 06:05</text>
<text x="400.20" y="36.60" font-size="23.60" fill="#0000ff">Vrhnika 7 dni</text>
<text x="172.96" y="68.50" font-size="19.06" fill="#000" textLength="45.96" lengthAdjust="spacingAndGlyphs">torek</text>
<text x="171.14" y="89.80" font-size="17.64" fill="#000" textLength="49.61" lengthAdjust="spacingAndGlyphs">14.10</text>
<text x="309.60" y="68.50" font-size="19.06" fill="#000" textLength="49.26" lengthAdjust="spacingAndGlyphs">sreda</text>
<text x="309.42" y="89.80" font-size="17.64" fill="#000" textLength="49.61" lengthAdjust="spacingAndGlyphs">15.10</text>
<text x="440.94" y="68.50" font-size="19.06" fill="#000" textLength="63.15" lengthAdjust="spacingAndGlyphs">četrtek</text>
<text x="447.71" y="89.80" font-size="17.64" fill="#000" textLength="49.61" lengthAdjust="spacingAndGlyphs">16.10</text>
<text x="585.61" y="68.50" font-size="19.06" fill="#000" textLength="50.39" lengthAdjust="spacingAndGlyphs">petek</text>
<text x="585.99" y="89.80" font-size="17.64" fill="#000" textLength="49.61" lengthAdjust="spacingAndGlyphs">17.10</text>
<text x="719.03" y="68.50" font-size="19.06" fill="#cc0000" textLength="60.12" lengthAdjust="spacingAndGlyphs">sobota</text>
<text x="724.28" y="89.80" font-size="17.64" fill="#cc0000" textLength="49.61" lengthAdjust="spacingAndGlyphs">18.10</text>
<text x="854.80" y="68.50" font-size="19.06" fill="#cc0000" textLength="65.15" lengthAdjust="spacingAndGlyphs">nedelja</text>
<text x="862.56" y="89.80" font-size="17.64" fill="#cc0000" textLength="49.61" lengthAdjust="spacingAndGlyphs">19.10</text>
<text x="976.85" y="68.50" font-size="19.06" fill="#000" textLength="97.62" lengthAdjust="spacingAndGlyphs">ponedeljek</text>
<text x="1000.85" y="89.80" font-size="17.64" fill="#000" textLength="49.61" lengthAdjust="spacingAndGlyphs">20.10</text>
<text x="150.05" y="376.60" font-size="17.64" fill="#000" textLength="22.05" lengthAdjust="spacingAndGlyphs">06</text>
<text x="184.62" y="376.60" font-size="17.64" fill="#000" textLength="22.05" lengthAdjust="spacingAndGlyphs">12</text>
<text x="219.19" y="376.60" font-size="17.64" fill="#000" textLength="22.05" lengthAdjust="spacingAndGlyphs">18</text>
<text x="251.24" y="376.60" font-size="19.06" fill="#000" textLength="27.10" lengthAdjust="spacingAndGlyphs">sre</text>
<text x="288.33" y="376.60" font-size="17.64" fill="#000" textLength="22.05" lengthAdjust="spacingAndGlyphs">06</text>
<text x="322.90" y="376.60" font-size="17.64" fill="#000" textLength="22.05" lengthAdjust="spacingAndGlyphs">12</text>
<text x="357.47" y="376.60" font-size="17.64" fill="#000" textLength="22.05" lengthAdjust="spacingAndGlyphs">18</text>
<text x="389.24" y="376.60" font-size="19.06" fill="#000" textLength="27.66" lengthAdjust="spacingAndGlyphs">čet</text>
<text x="426.62" y="376.60" font-size="17.64" fill="#000" textLength="22.05" lengthAdjust="spacingAndGlyphs">06</text>
<text x="461.19" y="376.60" font-size="17.64" fill="#000" textLength="22.05" lengthAdjust="spacingAndGlyphs">12</text>
<text x="495.76" y="376.60" font-size="17.64" fill="#000" textLength="22.05" lengthAdjust="spacingAndGlyphs">18</text>
<text x="526.77" y="376.60" font-size="19.06" fill="#000" textLength="29.17" lengthAdjust="spacingAndGlyphs">pet</text>
<text x="564.90" y="376.60" font-size="17.64" fill="#000" textLength="22.05" lengthAdjust="spacingAndGlyphs">06</text>
<text x="599.47" y="376.60" font-size="17.64" fill="#000" textLength="22.05" lengthAdjust="spacingAndGlyphs">12</text>
<text x="634.05" y="376.60" font-size="17.64" fill="#000" textLength="22.05" lengthAdjust="spacingAndGlyphs">18</text>
<text x="663.94" y="376.60" font-size="19.06" fill="#000" textLength="31.40" lengthAdjust="spacingAndGlyphs">sob</text>
<text x="703.19" y="376.60" font-size="17.64" fill="#000" textLength="22.05" lengthAdjust="spacingAndGlyphs">06</text>
<text x="737.76" y="376.60" font-size="17.64" fill="#000" textLength="22.05" lengthAdjust="spacingAndGlyphs">12</text>
<text x="772.33" y="376.60" font-size="17.64" fill="#000" textLength="22.05" lengthAdjust="spacingAndGlyphs">18</text>
<text x="801.20" y="376.60" font-size="19.06" fill="#000" textLength="33.46" lengthAdjust="spacingAndGlyphs">ned</text>
<text x="841.47" y="376.60" font-size="17.64" fill="#000" textLength="22.05" lengthAdjust="spacingAndGlyphs">06</text>
<text x="876.05" y="376.60" font-size="17.64" fill="#000" textLength="22.05" lengthAdjust="spacingAndGlyphs">12</text>
<text x="910.62" y="376.60" font-size="17.64" fill="#000" textLength="22.05" lengthAdjust="spacingAndGlyphs">18</text>
<text x="939.51" y="376.60" font-size="19.06" fill="#000" textLength="33.40" lengthAdjust="spacingAndGlyphs">pon</text>
<text x="979.76" y="376.60" font-size="17.64" fill="#000" textLength="22.05" lengthAdjust="spacingAndGlyphs">06</text>
<text x="1014.33" y="376.60" font-size="17.64" fill="#000" textLength="22.05" lengthAdjust="spacingAndGlyphs">12</text>
<text x="1048.90" y="376.60" font-size="17.64" fill="#000" textLength="22.05" lengthAdjust="spacingAndGlyphs">18</text>
<text x="111.57" y="365.80" font-size="17.64" fill="#000" textLength="11.03" lengthAdjust="spacingAndGlyphs">0</text>
<text x="111.57" y="328.40" font-size="17.64" fill="#000" textLength="11.03" lengthAdjust="spacingAndGlyphs">1</text>
<text x="111.57" y="291.00" font-size="17.64" fill="#000" textLength="11.03" lengthAdjust="spacingAndGlyphs">2</text>
<text x="111.57" y="253.60" font-size="17.64" fill="#000" textLength="11.03" lengthAdjust="spacingAndGlyphs">3</text>
<text x="111.57" y="216.20" font-size="17.64" fill="#000" textLength="11.03" lengthAdjust="spacingAndGlyphs">4</text>
<text x="111.57" y="178.80" font-size="17.64" fill="#000" textLength="11.03" lengthAdjust="spacingAndGlyphs">5</text>
<text x="46.60" y="365.80" font-size="17.64" fill="#ff0000" textLength="17.28" lengthAdjust="spacingAndGlyphs">-1</text>
<text x="46.60" y="328.40" font-size="17.64" fill="#ff0000" textLength="11.03" lengthAdjust="spacingAndGlyphs">3</text>
<text x="46.60" y="291.00" font-size="17.64" fill="#ff0000" textLength="11.03" lengthAdjust="spacingAndGlyphs">7</text>
<text x="46.00" y="253.60" font-size="17.64" fill="#ff0000" textLength="22.05" lengthAdjust="spacingAndGlyphs">12</text>
<text x="46.00" y="216.20" font-size="17.64" fill="#ff0000" textLength="22.05" lengthAdjust="spacingAndGlyphs">16</text>
<text x="46.00" y="178.80" font-size="17.64" fill="#ff0000" textLength="22.05" lengthAdjust="spacingAndGlyphs">20</text>
<text x="1098.60" y="365.80" font-size="17.64" fill="#000" textLength="11.03" lengthAdjust="spacingAndGlyphs">0</text>
<text x="1098.60" y="328.40" font-size="17.64" fill="#000" textLength="27.56" lengthAdjust="spacingAndGlyphs">1.5</text>
<text x="1098.60" y="291.00" font-size="17.64" fill="#000" textLength="27.56" lengthAdjust="spacingAndGlyphs">3.5</text>
<text x="1098.60" y="253.60" font-size="17.64" fill="#000" textLength="27.56" lengthAdjust="spacingAndGlyphs">6.0</text>
<text x="1098.60" y="216.20" font-size="17.64" fill="#000" textLength="27.56" lengthAdjust="spacingAndGlyphs">9.0</text>
<text x="1098.60" y="178.80" font-size="17.64" fill="#000" textLength="22.05" lengthAdjust="spacingAndGlyphs">14</text>
<g transform="translate(36.0,348.8) rotate(-90)"><text x="0.00" y="0.00" font-size="21.60" fill="#ff0000" textLength="164.50" lengthAdjust="spacingAndGlyphs">Temperatura (°C)</text></g>
<g transform="translate(100.0,346.0) rotate(-90)"><text x="0.00" y="0.00" font-size="21.60" fill="#000" textLength="164.60" lengthAdjust="spacingAndGlyphs">Padavine (mm/h)</text></g>
<g transform="translate(1145.0,348.2) rotate(-90)"><text x="0.00" y="0.00" font-size="21.60" fill="#000" textLength="189.30" lengthAdjust="spacingAndGlyphs">Višina oblakov (km)</text></g>
<rect x="127" y="390" width="32" height="11" fill="#004cff"/>
<rect x="165.1" y="386.2" width="104.9" height="19.5" fill="#fff"/>
<text x="168.60" y="401.60" font-size="19.90" fill="#000">Dež</text>
<rect x="278" y="390" width="32" height="11" fill="#0ad7c8"/>
<rect x="310" y="386" width="110" height="19.5" fill="#fff"/>
<text x="318.80" y="401.60" font-size="19.90" fill="#000" textLength="115.60" lengthAdjust="spacingAndGlyphs">Možnost ploh</text>
<text x="499.30" y="401.60" font-size="15.80" fill="#0000ff">© vreme.us &amp; vreme.pro</text>
<rect x="759.7" y="386.4" width="179.5" height="19.4" fill="#fff"/>
<text x="759.60" y="401.60" font-size="19.90" fill="#000" textLength="175.80" lengthAdjust="spacingAndGlyphs">Gostota oblakov (%)</text>
<rect x="949.20" y="385.5" width="29.42" height="12.6" fill="#d0d0d0"/>
<rect x="978.32" y="385.5" width="29.42" height="12.6" fill="#b0b0b0"/>
<rect x="1007.44" y="385.5" width="29.42" height="12.6" fill="#929292"/>
<rect x="1036.56" y="385.5" width="29.42" height="12.6" fill="#737373"/>
<rect x="1065.68" y="385.5" width="29.42" height="12.6" fill="#555555"/>
<rect x="949.2" y="385.5" width="145.6" height="12.6" fill="none" stroke="#000" stroke-width="0.9"/>
<text x="939.32" y="414.60" font-size="16.29" fill="#000" textLength="20.36" lengthAdjust="spacingAndGlyphs">10</text>
<text x="968.44" y="414.60" font-size="16.29" fill="#000" textLength="20.36" lengthAdjust="spacingAndGlyphs">25</text>
<text x="997.56" y="414.60" font-size="16.29" fill="#000" textLength="20.36" lengthAdjust="spacingAndGlyphs">50</text>
<text x="1026.68" y="414.60" font-size="16.29" fill="#000" textLength="20.36" lengthAdjust="spacingAndGlyphs">75</text>
<text x="1055.80" y="414.60" font-size="16.29" fill="#000" textLength="20.36" lengthAdjust="spacingAndGlyphs">90</text>
<text x="1079.83" y="414.60" font-size="16.29" fill="#000" textLength="30.54" lengthAdjust="spacingAndGlyphs">100</text>
<text x="150.39" y="301.60" font-size="17.64" fill="#000" textLength="11.03" lengthAdjust="spacingAndGlyphs">8</text>
<text x="202.52" y="234.50" font-size="17.64" fill="#000" textLength="22.05" lengthAdjust="spacingAndGlyphs">15</text>
<text x="283.49" y="296.60" font-size="17.64" fill="#000" textLength="11.03" lengthAdjust="spacingAndGlyphs">8</text>
<text x="340.37" y="239.30" font-size="17.64" fill="#000" textLength="22.05" lengthAdjust="spacingAndGlyphs">15</text>
<text x="433.29" y="310.00" font-size="17.64" fill="#000" textLength="11.03" lengthAdjust="spacingAndGlyphs">7</text>
<text x="478.57" y="251.80" font-size="17.64" fill="#000" textLength="22.05" lengthAdjust="spacingAndGlyphs">13</text>
<text x="570.99" y="318.50" font-size="17.64" fill="#000" textLength="11.03" lengthAdjust="spacingAndGlyphs">6</text>
<text x="616.57" y="255.90" font-size="17.64" fill="#000" textLength="22.05" lengthAdjust="spacingAndGlyphs">13</text>
<text x="709.29" y="328.10" font-size="17.64" fill="#000" textLength="11.03" lengthAdjust="spacingAndGlyphs">5</text>
<text x="755.47" y="260.80" font-size="17.64" fill="#000" textLength="22.05" lengthAdjust="spacingAndGlyphs">12</text>
<text x="848.19" y="337.80" font-size="17.64" fill="#000" textLength="11.03" lengthAdjust="spacingAndGlyphs">4</text>
<text x="893.47" y="277.80" font-size="17.64" fill="#000" textLength="22.05" lengthAdjust="spacingAndGlyphs">10</text>
<text x="985.29" y="343.40" font-size="17.64" fill="#000" textLength="11.03" lengthAdjust="spacingAndGlyphs">3</text>
<text x="1031.07" y="270.50" font-size="17.64" fill="#000" textLength="22.05" lengthAdjust="spacingAndGlyphs">11</text>
<text x="1089.09" y="307.70" font-size="17.64" fill="#000" textLength="11.03" lengthAdjust="spacingAndGlyphs">7</text>
</svg>
</body>
</html>
